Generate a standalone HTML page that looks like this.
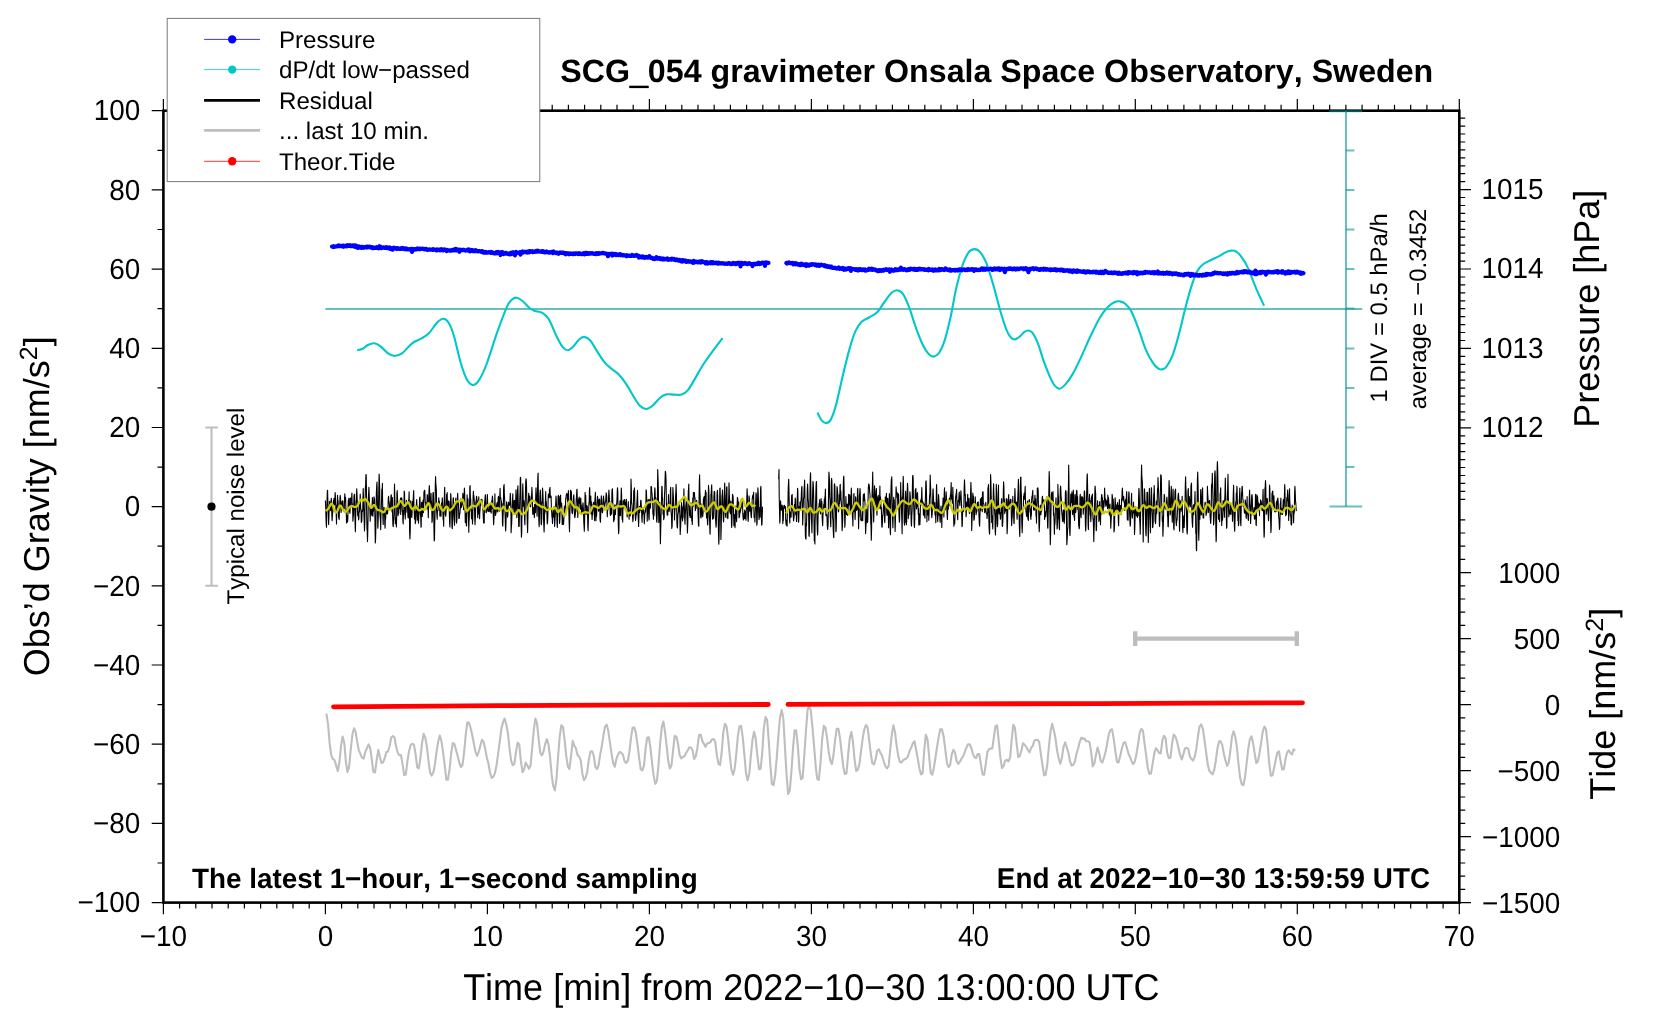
<!DOCTYPE html>
<html lang="en">
<head>
<meta charset="utf-8">
<title>SCG_054 gravimeter Onsala Space Observatory, Sweden</title>
<style>
html,body{margin:0;padding:0;background:#fff;}
body{width:1660px;height:1020px;overflow:hidden;font-family:"Liberation Sans",sans-serif;}
svg{display:block;will-change:transform;}
text{font-kerning:none;text-rendering:geometricPrecision;}
</style>
</head>
<body>
<svg width="1660" height="1020" viewBox="0 0 1660 1020" font-family='&quot;Liberation Sans&quot;, sans-serif' fill="#000">
<rect width="1660" height="1020" fill="#fff"/>
<g stroke="#000" fill="none">
<rect x="163.4" y="110.7" width="1295.9" height="791.9" stroke-width="2.6"/>
<path d="M163.4 902.6 v11.7 M163.4 110.7 v-11.7 M179.6 902.6 v5.9 M179.6 110.7 v-5.9 M195.8 902.6 v5.9 M195.8 110.7 v-5.9 M212 902.6 v5.9 M212 110.7 v-5.9 M228.2 902.6 v5.9 M228.2 110.7 v-5.9 M244.4 902.6 v5.9 M244.4 110.7 v-5.9 M260.6 902.6 v5.9 M260.6 110.7 v-5.9 M276.8 902.6 v5.9 M276.8 110.7 v-5.9 M293 902.6 v5.9 M293 110.7 v-5.9 M309.2 902.6 v5.9 M309.2 110.7 v-5.9 M325.4 902.6 v11.7 M325.4 110.7 v-11.7 M341.6 902.6 v5.9 M341.6 110.7 v-5.9 M357.8 902.6 v5.9 M357.8 110.7 v-5.9 M374 902.6 v5.9 M374 110.7 v-5.9 M390.2 902.6 v5.9 M390.2 110.7 v-5.9 M406.4 902.6 v5.9 M406.4 110.7 v-5.9 M422.6 902.6 v5.9 M422.6 110.7 v-5.9 M438.8 902.6 v5.9 M438.8 110.7 v-5.9 M455 902.6 v5.9 M455 110.7 v-5.9 M471.2 902.6 v5.9 M471.2 110.7 v-5.9 M487.4 902.6 v11.7 M487.4 110.7 v-11.7 M503.6 902.6 v5.9 M503.6 110.7 v-5.9 M519.8 902.6 v5.9 M519.8 110.7 v-5.9 M536 902.6 v5.9 M536 110.7 v-5.9 M552.2 902.6 v5.9 M552.2 110.7 v-5.9 M568.4 902.6 v5.9 M568.4 110.7 v-5.9 M584.6 902.6 v5.9 M584.6 110.7 v-5.9 M600.8 902.6 v5.9 M600.8 110.7 v-5.9 M617 902.6 v5.9 M617 110.7 v-5.9 M633.2 902.6 v5.9 M633.2 110.7 v-5.9 M649.4 902.6 v11.7 M649.4 110.7 v-11.7 M665.6 902.6 v5.9 M665.6 110.7 v-5.9 M681.8 902.6 v5.9 M681.8 110.7 v-5.9 M698 902.6 v5.9 M698 110.7 v-5.9 M714.2 902.6 v5.9 M714.2 110.7 v-5.9 M730.4 902.6 v5.9 M730.4 110.7 v-5.9 M746.6 902.6 v5.9 M746.6 110.7 v-5.9 M762.8 902.6 v5.9 M762.8 110.7 v-5.9 M779 902.6 v5.9 M779 110.7 v-5.9 M795.2 902.6 v5.9 M795.2 110.7 v-5.9 M811.4 902.6 v11.7 M811.4 110.7 v-11.7 M827.6 902.6 v5.9 M827.6 110.7 v-5.9 M843.8 902.6 v5.9 M843.8 110.7 v-5.9 M860 902.6 v5.9 M860 110.7 v-5.9 M876.2 902.6 v5.9 M876.2 110.7 v-5.9 M892.4 902.6 v5.9 M892.4 110.7 v-5.9 M908.6 902.6 v5.9 M908.6 110.7 v-5.9 M924.8 902.6 v5.9 M924.8 110.7 v-5.9 M941 902.6 v5.9 M941 110.7 v-5.9 M957.2 902.6 v5.9 M957.2 110.7 v-5.9 M973.4 902.6 v11.7 M973.4 110.7 v-11.7 M989.6 902.6 v5.9 M989.6 110.7 v-5.9 M1005.8 902.6 v5.9 M1005.8 110.7 v-5.9 M1022 902.6 v5.9 M1022 110.7 v-5.9 M1038.2 902.6 v5.9 M1038.2 110.7 v-5.9 M1054.4 902.6 v5.9 M1054.4 110.7 v-5.9 M1070.6 902.6 v5.9 M1070.6 110.7 v-5.9 M1086.8 902.6 v5.9 M1086.8 110.7 v-5.9 M1103 902.6 v5.9 M1103 110.7 v-5.9 M1119.2 902.6 v5.9 M1119.2 110.7 v-5.9 M1135.3 902.6 v11.7 M1135.3 110.7 v-11.7 M1151.5 902.6 v5.9 M1151.5 110.7 v-5.9 M1167.7 902.6 v5.9 M1167.7 110.7 v-5.9 M1183.9 902.6 v5.9 M1183.9 110.7 v-5.9 M1200.1 902.6 v5.9 M1200.1 110.7 v-5.9 M1216.3 902.6 v5.9 M1216.3 110.7 v-5.9 M1232.5 902.6 v5.9 M1232.5 110.7 v-5.9 M1248.7 902.6 v5.9 M1248.7 110.7 v-5.9 M1264.9 902.6 v5.9 M1264.9 110.7 v-5.9 M1281.1 902.6 v5.9 M1281.1 110.7 v-5.9 M1297.3 902.6 v11.7 M1297.3 110.7 v-11.7 M1313.5 902.6 v5.9 M1313.5 110.7 v-5.9 M1329.7 902.6 v5.9 M1329.7 110.7 v-5.9 M1345.9 902.6 v5.9 M1345.9 110.7 v-5.9 M1362.1 902.6 v5.9 M1362.1 110.7 v-5.9 M1378.3 902.6 v5.9 M1378.3 110.7 v-5.9 M1394.5 902.6 v5.9 M1394.5 110.7 v-5.9 M1410.7 902.6 v5.9 M1410.7 110.7 v-5.9 M1426.9 902.6 v5.9 M1426.9 110.7 v-5.9 M1443.1 902.6 v5.9 M1443.1 110.7 v-5.9 M1459.3 902.6 v11.7 M1459.3 110.7 v-11.7 M163.4 902.6 h-11.7 M163.4 863 h-5.9 M163.4 823.4 h-11.7 M163.4 783.8 h-5.9 M163.4 744.2 h-11.7 M163.4 704.6 h-5.9 M163.4 665 h-11.7 M163.4 625.4 h-5.9 M163.4 585.8 h-11.7 M163.4 546.2 h-5.9 M163.4 506.6 h-11.7 M163.4 467.1 h-5.9 M163.4 427.5 h-11.7 M163.4 387.9 h-5.9 M163.4 348.3 h-11.7 M163.4 308.7 h-5.9 M163.4 269.1 h-11.7 M163.4 229.5 h-5.9 M163.4 189.9 h-11.7 M163.4 150.3 h-5.9 M163.4 110.7 h-11.7 M1459.3 499.3 h5.9 M1459.3 491.4 h5.9 M1459.3 483.4 h5.9 M1459.3 475.5 h5.9 M1459.3 467.5 h5.9 M1459.3 459.6 h5.9 M1459.3 451.7 h5.9 M1459.3 443.7 h5.9 M1459.3 435.8 h5.9 M1459.3 427.8 h11.7 M1459.3 419.9 h5.9 M1459.3 411.9 h5.9 M1459.3 404 h5.9 M1459.3 396.1 h5.9 M1459.3 388.1 h5.9 M1459.3 380.2 h5.9 M1459.3 372.2 h5.9 M1459.3 364.3 h5.9 M1459.3 356.4 h5.9 M1459.3 348.4 h11.7 M1459.3 340.5 h5.9 M1459.3 332.5 h5.9 M1459.3 324.6 h5.9 M1459.3 316.7 h5.9 M1459.3 308.7 h5.9 M1459.3 300.8 h5.9 M1459.3 292.8 h5.9 M1459.3 284.9 h5.9 M1459.3 277 h5.9 M1459.3 269 h11.7 M1459.3 261.1 h5.9 M1459.3 253.1 h5.9 M1459.3 245.2 h5.9 M1459.3 237.2 h5.9 M1459.3 229.3 h5.9 M1459.3 221.4 h5.9 M1459.3 213.4 h5.9 M1459.3 205.5 h5.9 M1459.3 197.5 h5.9 M1459.3 189.6 h11.7 M1459.3 181.7 h5.9 M1459.3 173.7 h5.9 M1459.3 165.8 h5.9 M1459.3 157.8 h5.9 M1459.3 149.9 h5.9 M1459.3 142 h5.9 M1459.3 134 h5.9 M1459.3 126.1 h5.9 M1459.3 118.1 h5.9 M1459.3 902.6 h11.7 M1459.3 889.4 h5.9 M1459.3 876.2 h5.9 M1459.3 863 h5.9 M1459.3 849.8 h5.9 M1459.3 836.6 h11.7 M1459.3 823.4 h5.9 M1459.3 810.2 h5.9 M1459.3 797 h5.9 M1459.3 783.8 h5.9 M1459.3 770.6 h11.7 M1459.3 757.4 h5.9 M1459.3 744.2 h5.9 M1459.3 731 h5.9 M1459.3 717.8 h5.9 M1459.3 704.6 h11.7 M1459.3 691.4 h5.9 M1459.3 678.2 h5.9 M1459.3 665 h5.9 M1459.3 651.8 h5.9 M1459.3 638.6 h11.7 M1459.3 625.4 h5.9 M1459.3 612.2 h5.9 M1459.3 599 h5.9 M1459.3 585.8 h5.9 M1459.3 572.6 h11.7 M1459.3 559.4 h5.9 M1459.3 546.2 h5.9 M1459.3 533 h5.9 M1459.3 519.8 h5.9 " stroke-width="1.2"/>
</g>
<g stroke="rgb(0,150,150)" stroke-opacity="0.6" stroke-width="2" fill="none">
<path d="M325.4 309 H1362.2"/>
<path d="M1346 110.7 V506.6"/>
<path d="M1329.5 111.3 H1362.2"/>
<path d="M1329.5 506.6 H1362.2"/>
<path d="M1346 467 h8.4 M1346 427.5 h8.4 M1346 388 h8.4 M1346 348.5 h8.4 M1346 308.5 h8.4 M1346 269 h8.4 M1346 229.5 h8.4 M1346 190 h8.4 M1346 150.5 h8.4 "/>
</g>
<path d="M357.2 350.1 C358.1 349.9 361 349.7 362.8 348.8 C364.6 347.9 365.9 345.9 367.8 345 C369.7 344.1 372.1 343.1 374.2 343.3 C376.3 343.5 378.2 344.6 380.5 346.3 C382.8 348 385.8 351.8 388.1 353.4 C390.4 355 392.1 355.9 394.4 355.9 C396.7 355.9 399.1 355.5 402 353.4 C404.9 351.3 408.9 345.8 412.1 343.3 C415.3 340.9 418.2 340.3 421 338.7 C423.8 337.1 425.9 336.3 428.6 333.6 C431.3 330.9 434.9 324.8 437.4 322.3 C439.9 319.8 441.8 318.6 443.7 318.7 C445.6 318.8 447.1 320.2 448.8 323 C450.5 325.8 452 329.4 453.9 335.7 C455.8 342 458.1 353.8 460.2 361 C462.3 368.2 464.4 374.7 466.5 378.7 C468.6 382.7 470.7 384.8 472.8 385 C474.9 385.2 476.9 383.5 479.2 379.9 C481.5 376.3 483.9 371.3 486.8 363.5 C489.8 355.7 493.5 342.6 496.9 333.1 C500.3 323.6 504.5 312.2 507 306.6 C509.5 301 510.5 301 512.1 299.5 C513.7 298 514.9 297.5 516.6 297.7 C518.3 297.9 520 298.9 522.2 300.7 C524.4 302.5 527.7 306.6 529.8 308.3 C531.9 310 532.7 310.1 534.8 310.9 C536.9 311.7 540.1 311.5 542.4 312.9 C544.7 314.3 546.5 315.4 548.8 319.2 C551.1 323 554 331 556.3 335.7 C558.6 340.4 560.8 344.7 562.7 347.1 C564.6 349.5 566 350.3 567.7 350.3 C569.4 350.3 570.9 348.9 572.8 347.1 C574.7 345.3 577.2 341.2 579.1 339.5 C581 337.8 582.3 336.7 584.2 336.9 C586.1 337.1 588.4 338.4 590.5 340.7 C592.6 343 594.5 347.3 596.8 350.9 C599.1 354.5 602.1 359.3 604.4 362.2 C606.7 365.1 608.4 366.1 610.7 368.1 C613 370.1 615.8 371.5 618.3 374.1 C620.8 376.7 623.4 380 625.9 383.7 C628.4 387.4 631.2 392.7 633.5 396.4 C635.8 400.1 637.8 403.7 639.9 405.8 C642 407.9 644.1 409 646.2 409 C648.3 409 650.2 407.7 652.5 405.8 C654.8 403.9 657.8 399.6 660.1 397.7 C662.4 395.8 664.1 394.9 666.4 394.4 C668.7 393.9 671.5 394.6 674 394.6 C676.5 394.6 679.3 395.4 681.6 394.6 C683.9 393.9 685.8 392.6 687.9 390.1 C690 387.7 691.8 384.1 694.3 379.9 C696.8 375.7 700.1 369.4 703.1 364.8 C706.1 360.2 708.8 356.5 712 352.1 C715.2 347.7 720.8 340.5 722.6 338.2 M817.5 412.6 C818.2 413.9 820.1 418.6 821.6 420.4 C823.1 422.1 824.8 423.3 826.3 423.1 C827.8 422.9 829.3 422.4 830.9 419.4 C832.5 416.4 834.1 411.9 836 405 C837.9 398.1 840 387.5 842.2 378.2 C844.4 368.9 847.2 357.3 849.4 349.4 C851.6 341.5 853.5 335.5 855.6 330.9 C857.7 326.3 859.6 323.8 861.8 321.6 C864 319.4 866.4 319.1 869 317.5 C871.6 315.9 874.6 314.9 877.2 312.3 C879.8 309.7 882 305.2 884.4 302 C886.8 298.8 889.5 294.8 891.6 292.8 C893.7 290.9 895.3 290.1 897.2 290.3 C899.1 290.5 900.9 291 902.9 293.8 C904.9 296.6 906.9 301.4 909.1 307.2 C911.3 313 913.9 322.3 916.3 328.8 C918.7 335.3 921.4 342.1 923.5 346.3 C925.6 350.5 927.1 352.4 928.7 354.1 C930.4 355.8 931.7 356.8 933.4 356.6 C935.1 356.4 937.1 355.5 938.9 353.1 C940.7 350.7 942.2 348 944.1 342.2 C946 336.4 948.2 327.6 950.3 318.5 C952.3 309.4 954.3 296.5 956.4 287.6 C958.5 278.7 960.5 270.9 962.6 265 C964.7 259.1 966.8 254.8 968.8 252.2 C970.8 249.5 972.7 249.1 974.6 249.1 C976.5 249.1 978.2 249.9 980.1 252.2 C982 254.5 984.1 257.3 986.3 262.9 C988.5 268.5 991.1 277.4 993.5 285.6 C995.9 293.8 998.5 304.8 1000.7 312.3 C1002.9 319.9 1005.2 326.7 1006.9 330.9 C1008.6 335.1 1009.7 336.1 1011 337.5 C1012.3 338.9 1013.1 339.6 1014.5 339.5 C1015.9 339.4 1017.6 338.3 1019.2 337 C1020.9 335.7 1022.9 333 1024.4 331.9 C1026 330.8 1027.1 330.3 1028.5 330.5 C1029.9 330.7 1031 330.8 1032.6 332.9 C1034.1 335 1035.9 338.4 1037.8 343.2 C1039.7 348 1041.9 356 1043.9 361.7 C1046 367.4 1048.3 373.2 1050.1 377.2 C1051.9 381.1 1053 383.5 1054.6 385.4 C1056.2 387.3 1057.7 388.9 1059.5 388.7 C1061.3 388.5 1063.2 386.8 1065.4 384.4 C1067.6 382 1070 378.6 1072.6 374.1 C1075.2 369.6 1078 363.8 1080.9 357.6 C1083.8 351.4 1087 343.5 1090.1 337 C1093.2 330.5 1096.5 323.5 1099.4 318.5 C1102.3 313.5 1105 309.9 1107.6 307.2 C1110.2 304.4 1112.7 303 1114.8 302 C1116.9 301 1118.3 301.1 1120 301.4 C1121.7 301.7 1123.2 302 1125.1 303.7 C1127 305.4 1129.1 307.1 1131.3 311.3 C1133.5 315.5 1136.1 322.5 1138.5 328.8 C1140.9 335.1 1143.3 343.7 1145.7 349.4 C1148.1 355.1 1150.8 359.6 1152.9 362.8 C1155 366 1156.6 367.2 1158.1 368.3 C1159.5 369.4 1160.2 369.6 1161.6 369.4 C1163 369.2 1164.5 369.2 1166.3 366.9 C1168.1 364.6 1170.4 360.9 1172.5 355.6 C1174.6 350.3 1176.7 342.6 1178.7 335 C1180.8 327.4 1182.8 318.2 1184.8 310.3 C1186.8 302.4 1188.9 294.1 1191 287.6 C1193.1 281.1 1195.1 275.1 1197.2 271.2 C1199.3 267.3 1201 265.9 1203.4 264 C1205.8 262.1 1209 261.1 1211.6 259.8 C1214.2 258.5 1216.6 257.5 1218.8 256.3 C1221 255.1 1223 253.6 1225 252.6 C1227 251.6 1229.2 250.8 1231.1 250.6 C1233 250.4 1234.6 250.6 1236.3 251.6 C1238 252.6 1239.5 254.2 1241.4 256.8 C1243.3 259.4 1245.2 262 1247.6 267.1 C1250 272.2 1253 281.2 1255.8 287.6 C1258.5 294.1 1262.7 302.8 1264.1 305.8" fill="none" stroke="#00c8c8" stroke-width="2.1" stroke-linejoin="round"/>
<path d="M325.4 500.4 L325.7 507.4 L325.9 515.2 L326.2 523.7 L326.5 527.2 L326.7 516.2 L327 503.4 L327.3 491.1 L327.6 490.2 L327.8 499.3 L328.1 505.3 L328.4 514.7 L328.6 524.5 L328.9 517.3 L329.2 508.9 L329.4 506.2 L329.7 501.3 L330 504.1 L330.3 507.4 L330.5 509.9 L330.8 510.8 L331.1 499.8 L331.3 498.3 L331.6 502.7 L331.9 516.2 L332.1 520.6 L332.4 515.6 L332.7 512.1 L333 511.4 L333.2 504 L333.5 500.4 L333.8 502.6 L334 498.3 L334.3 505.1 L334.6 502.9 L334.8 504.2 L335.1 492.5 L335.4 495.9 L335.7 502.2 L335.9 509.5 L336.2 513.1 L336.5 524 L336.7 514.7 L337 504.7 L337.3 507.5 L337.5 495.2 L337.8 500.3 L338.1 500.6 L338.4 509.6 L338.6 517 L338.9 518.2 L339.2 519.6 L339.4 508.8 L339.7 505.4 L340 497.5 L340.2 495.4 L340.5 497.5 L340.8 507.2 L341.1 512.4 L341.3 509.8 L341.6 506.9 L341.9 501.6 L342.1 503.2 L342.4 508.5 L342.7 500.6 L342.9 501.4 L343.2 508.2 L343.5 508.3 L343.8 508 L344 507.8 L344.3 508.7 L344.6 497.7 L344.8 493.9 L345.1 500.2 L345.4 501.6 L345.6 497.4 L345.9 510.1 L346.2 508.9 L346.5 523 L346.7 519.3 L347 515.6 L347.3 517.2 L347.5 522.1 L347.8 519.6 L348.1 508.1 L348.3 500.5 L348.6 499.7 L348.9 498.2 L349.2 506.9 L349.4 511.4 L349.7 511.1 L350 513.4 L350.2 498.1 L350.5 498 L350.8 500 L351 507.1 L351.3 498.6 L351.6 497.9 L351.9 493.1 L352.1 502.2 L352.4 504.6 L352.7 511 L352.9 521.1 L353.2 517 L353.5 515.1 L353.7 506.3 L354 496.4 L354.3 494.3 L354.6 494.3 L354.8 509.9 L355.1 524.1 L355.4 531.7 L355.6 520.4 L355.9 508.1 L356.2 500.3 L356.4 501.9 L356.7 488.9 L357 494.1 L357.3 503.3 L357.5 510.5 L357.8 515.9 L358.1 511.8 L358.3 512.6 L358.6 519.9 L358.9 517.8 L359.1 504.4 L359.4 511.9 L359.7 507.2 L360 502.1 L360.2 494.1 L360.5 502.4 L360.8 510.3 L361 509.5 L361.3 522.4 L361.6 518.4 L361.8 521.3 L362.1 510.9 L362.4 511.6 L362.7 510.9 L362.9 502.3 L363.2 488.5 L363.5 499.2 L363.7 504.4 L364 516.6 L364.3 524.5 L364.5 531 L364.8 521.5 L365.1 499.7 L365.4 486.6 L365.6 486.4 L365.9 474.7 L366.2 474.6 L366.4 486.5 L366.7 516.3 L367 529.8 L367.2 528.5 L367.5 541.6 L367.8 530.6 L368.1 514.5 L368.3 499.9 L368.6 494 L368.9 487.3 L369.1 492.6 L369.4 500.4 L369.7 507.8 L369.9 510 L370.2 521.2 L370.5 511.2 L370.8 510.2 L371 507.7 L371.3 510.5 L371.6 514.1 L371.8 515.5 L372.1 505.3 L372.4 497.6 L372.6 503.1 L372.9 516.2 L373.2 508.1 L373.5 511.2 L373.7 503.8 L374 496.8 L374.3 499.8 L374.5 498.5 L374.8 511.3 L375.1 531.5 L375.3 543 L375.6 539 L375.9 525 L376.2 505.1 L376.4 492.4 L376.7 485.8 L377 482 L377.2 490.9 L377.5 508.1 L377.8 528.1 L378 525.6 L378.3 515.4 L378.6 502.1 L378.9 484.9 L379.1 474.1 L379.4 480 L379.7 490.7 L379.9 514.3 L380.2 517.4 L380.5 521.7 L380.7 529.6 L381 515 L381.3 507.6 L381.6 498 L381.8 489.1 L382.1 494.9 L382.4 483.4 L382.6 500.1 L382.9 518 L383.2 524.4 L383.4 512.7 L383.7 514.7 L384 507.3 L384.3 509.7 L384.5 509.3 L384.8 524.5 L385.1 528.1 L385.3 519.5 L385.6 519.2 L385.9 512.2 L386.1 511.2 L386.4 514 L386.7 511.3 L387 509.2 L387.2 512.5 L387.5 513.9 L387.8 510.8 L388 508.7 L388.3 497.8 L388.6 496.3 L388.8 500.9 L389.1 502 L389.4 504.3 L389.7 509.8 L389.9 507.3 L390.2 509.8 L390.5 508.3 L390.7 501.9 L391 495.5 L391.3 494.8 L391.5 499.6 L391.8 507.2 L392.1 512 L392.4 497.6 L392.6 514.4 L392.9 524.9 L393.2 526.7 L393.4 522.3 L393.7 518.8 L394 514.4 L394.2 504.2 L394.5 484 L394.8 497.3 L395.1 507.9 L395.3 523.7 L395.6 520.1 L395.9 518.1 L396.1 520.1 L396.4 526.9 L396.7 514 L396.9 493.4 L397.2 490.5 L397.5 497.7 L397.8 505.4 L398 515.7 L398.3 511.7 L398.6 514 L398.8 512.9 L399.1 505.7 L399.4 508.7 L399.6 506.1 L399.9 505 L400.2 502.8 L400.5 498 L400.7 514.5 L401 504.8 L401.3 503.4 L401.5 497.7 L401.8 498.2 L402.1 503.6 L402.3 511.2 L402.6 510.9 L402.9 521.2 L403.2 523.9 L403.4 510.3 L403.7 515.1 L404 502.1 L404.2 491.1 L404.5 492.4 L404.8 505.2 L405 513.4 L405.3 518.9 L405.6 506 L405.9 511.4 L406.1 512.2 L406.4 500.3 L406.7 503.5 L406.9 506.5 L407.2 503.9 L407.5 506.2 L407.7 511.7 L408 517.1 L408.3 518 L408.6 499.9 L408.8 501.2 L409.1 491.7 L409.4 509.5 L409.6 530.7 L409.9 539 L410.2 533 L410.4 517.4 L410.7 500.8 L411 508.1 L411.3 510.2 L411.5 516.9 L411.8 517.4 L412.1 512.4 L412.3 501.6 L412.6 503.4 L412.9 507.3 L413.1 500.7 L413.4 495.3 L413.7 490.6 L414 508.4 L414.2 509.2 L414.5 518.9 L414.8 512.5 L415 511.4 L415.3 523.7 L415.6 521.3 L415.8 521.2 L416.1 507 L416.4 504.1 L416.7 499.5 L416.9 505.5 L417.2 516.1 L417.5 519.9 L417.7 506.5 L418 509.9 L418.3 519.4 L418.5 523.3 L418.8 516.7 L419.1 512.4 L419.4 505.8 L419.6 498.5 L419.9 497 L420.2 506.9 L420.4 513.9 L420.7 516.6 L421 527.3 L421.2 526.9 L421.5 502.3 L421.8 515.6 L422.1 512.9 L422.3 516.5 L422.6 502.4 L422.9 502.5 L423.1 500.1 L423.4 512.7 L423.7 507.5 L423.9 492.4 L424.2 491.5 L424.5 490.2 L424.8 490.8 L425 496.9 L425.3 502.6 L425.6 502.7 L425.8 506 L426.1 504.3 L426.4 502.7 L426.6 505.5 L426.9 509 L427.2 494.6 L427.5 495.7 L427.7 507.7 L428 505.7 L428.3 517.7 L428.5 506.8 L428.8 495.8 L429.1 489.3 L429.3 485.6 L429.6 491 L429.9 506.1 L430.2 506.5 L430.4 499.4 L430.7 502.2 L431 493.2 L431.2 500.3 L431.5 502.2 L431.8 509 L432 522.5 L432.3 519.9 L432.6 511.3 L432.9 495.6 L433.1 492.5 L433.4 492.7 L433.7 502.9 L433.9 526.1 L434.2 540.9 L434.5 540 L434.7 524.6 L435 515.9 L435.3 484.9 L435.6 476.5 L435.8 483.1 L436.1 486.5 L436.4 491.1 L436.6 510.9 L436.9 515 L437.2 519.2 L437.4 511.6 L437.7 510.3 L438 510.5 L438.3 506.3 L438.5 503 L438.8 497.8 L439.1 506.8 L439.3 501 L439.6 506.2 L439.9 516.1 L440.1 511.1 L440.4 511.1 L440.7 505.6 L441 516.3 L441.2 505.9 L441.5 503.5 L441.8 502.6 L442 504 L442.3 497.7 L442.6 502.9 L442.8 508.5 L443.1 519.3 L443.4 519 L443.7 526.2 L443.9 507.5 L444.2 504.1 L444.5 491.1 L444.7 487.4 L445 505.1 L445.3 514.4 L445.5 515 L445.8 516.3 L446.1 511.4 L446.4 501.7 L446.6 494.3 L446.9 497.5 L447.2 492.6 L447.4 502.9 L447.7 508.5 L448 507 L448.2 502.3 L448.5 500.8 L448.8 503.3 L449.1 501.6 L449.3 511.3 L449.6 522.4 L449.9 527 L450.1 521.6 L450.4 508.2 L450.7 493.5 L450.9 495.2 L451.2 504.1 L451.5 507.3 L451.8 518.7 L452 527.3 L452.3 528.7 L452.6 519.5 L452.8 506.6 L453.1 498.9 L453.4 497.7 L453.6 502.4 L453.9 516.2 L454.2 520 L454.5 525.2 L454.7 514.6 L455 505 L455.3 502.6 L455.5 503.6 L455.8 498 L456.1 507.2 L456.3 521.6 L456.6 523.1 L456.9 520 L457.2 506.1 L457.4 498.4 L457.7 493.3 L458 504.1 L458.2 504.7 L458.5 501.7 L458.8 518.5 L459 518.4 L459.3 518.2 L459.6 513 L459.9 513.9 L460.1 510.3 L460.4 507.5 L460.7 499.4 L460.9 498.9 L461.2 507.7 L461.5 505.6 L461.7 506.3 L462 505.4 L462.3 503.3 L462.6 501.4 L462.8 493.2 L463.1 496.4 L463.4 504.8 L463.6 509.7 L463.9 506.2 L464.2 492.5 L464.4 488 L464.7 494.5 L465 508.1 L465.3 522.6 L465.5 514.3 L465.8 520.6 L466.1 513.5 L466.3 525.4 L466.6 526 L466.9 510.4 L467.1 494.9 L467.4 506.2 L467.7 500.9 L468 498.8 L468.2 509 L468.5 518.4 L468.8 532.2 L469 522.4 L469.3 517.6 L469.6 504.5 L469.8 487.4 L470.1 485.5 L470.4 499.3 L470.7 498.9 L470.9 510.9 L471.2 508.9 L471.5 518.8 L471.7 513.3 L472 509.7 L472.3 518.4 L472.5 524 L472.8 517.2 L473.1 496.5 L473.4 491.3 L473.6 497.2 L473.9 495.6 L474.2 499.6 L474.4 503.5 L474.7 517.3 L475 524.6 L475.2 520.6 L475.5 515.7 L475.8 502.4 L476.1 501.1 L476.3 499.3 L476.6 496.2 L476.9 499 L477.1 506.1 L477.4 501 L477.7 517.7 L477.9 511.7 L478.2 500.6 L478.5 501.7 L478.8 496.7 L479 514.1 L479.3 513.2 L479.6 518.7 L479.8 512.7 L480.1 509.5 L480.4 503.1 L480.6 505.4 L480.9 499.5 L481.2 499.4 L481.5 501.2 L481.7 500.6 L482 499.5 L482.3 504.3 L482.5 504.3 L482.8 507 L483.1 512.6 L483.3 517.1 L483.6 522.9 L483.9 519.7 L484.2 523 L484.4 510.9 L484.7 502.3 L485 498.6 L485.2 495.5 L485.5 494.7 L485.8 505.2 L486 512.3 L486.3 512.7 L486.6 511 L486.9 507.3 L487.1 501.7 L487.4 494.5 L487.7 504.9 L487.9 510.9 L488.2 511.6 L488.5 511.4 L488.7 510.1 L489 508.9 L489.3 506.5 L489.5 510.4 L489.8 511.6 L490.1 503.5 L490.4 507.5 L490.6 507.4 L490.9 512.1 L491.2 513.1 L491.4 506.3 L491.7 500.8 L492 508.2 L492.2 498.4 L492.5 496 L492.8 501.9 L493.1 512.2 L493.3 514.7 L493.6 524.8 L493.9 519.9 L494.1 516.2 L494.4 506.7 L494.7 505.6 L494.9 493.8 L495.2 507.9 L495.5 515.4 L495.8 513.8 L496 512.4 L496.3 511.2 L496.6 504.8 L496.8 504.3 L497.1 502.5 L497.4 503 L497.6 511.9 L497.9 507 L498.2 497.8 L498.5 496.2 L498.7 504.6 L499 503.9 L499.3 511.2 L499.5 500.8 L499.8 495.6 L500.1 488.2 L500.3 498.6 L500.6 497.2 L500.9 499.1 L501.2 509.7 L501.4 500.7 L501.7 504.9 L502 503.2 L502.2 507.3 L502.5 524.2 L502.8 526.1 L503 518.1 L503.3 511 L503.6 488.2 L503.9 485.2 L504.1 484.6 L504.4 495.6 L504.7 500.7 L504.9 509.2 L505.2 517 L505.5 528 L505.7 530.9 L506 523.1 L506.3 513.3 L506.6 501.7 L506.8 504.8 L507.1 504.7 L507.4 509.8 L507.6 517.2 L507.9 514.6 L508.2 507.5 L508.4 502.2 L508.7 502.2 L509 503.9 L509.3 505.5 L509.5 503.1 L509.8 505.1 L510.1 497.1 L510.3 493.3 L510.6 498.9 L510.9 507.8 L511.1 532.8 L511.4 526.6 L511.7 522.9 L512 513.4 L512.2 509.2 L512.5 500.6 L512.8 493.8 L513 507.2 L513.3 502.7 L513.6 501.4 L513.8 511.9 L514.1 512.1 L514.4 500.4 L514.7 500.9 L514.9 512.8 L515.2 513.5 L515.5 507.2 L515.7 502 L516 489.8 L516.3 495 L516.5 505.5 L516.8 517.6 L517.1 514 L517.4 501.3 L517.6 489.9 L517.9 485.8 L518.2 500.5 L518.4 505.9 L518.7 526.5 L519 519.8 L519.2 526.3 L519.5 511.8 L519.8 498.3 L520.1 490.7 L520.3 477.9 L520.6 477.4 L520.9 492.9 L521.1 519.6 L521.4 537.1 L521.7 533.6 L521.9 518.5 L522.2 510.9 L522.5 496.5 L522.8 483.7 L523 490.6 L523.3 506.3 L523.6 505.4 L523.8 500.6 L524.1 502.4 L524.4 512.5 L524.6 519.4 L524.9 524.7 L525.2 505.6 L525.5 491.9 L525.7 482.4 L526 478.7 L526.3 480.4 L526.5 485.3 L526.8 500.7 L527.1 515.1 L527.3 523.1 L527.6 532.5 L527.9 517.7 L528.2 502.9 L528.4 500 L528.7 493.3 L529 497.2 L529.2 496.3 L529.5 506.1 L529.8 496 L530 503.3 L530.3 505.7 L530.6 506.9 L530.9 502.6 L531.1 501.9 L531.4 497.9 L531.7 494.4 L531.9 487.3 L532.2 494.1 L532.5 505.6 L532.7 514.3 L533 514.3 L533.3 509 L533.6 511.4 L533.8 507.3 L534.1 513.9 L534.4 517.4 L534.6 504.3 L534.9 507.3 L535.2 508.1 L535.4 512.7 L535.7 497.3 L536 487.9 L536.3 494 L536.5 500.8 L536.8 510.8 L537.1 516.3 L537.3 506.9 L537.6 486.9 L537.9 475 L538.1 473 L538.4 496.9 L538.7 515.5 L539 524.5 L539.2 526.6 L539.5 515.3 L539.8 499.2 L540 493.5 L540.3 490 L540.6 497.6 L540.8 508.9 L541.1 523.4 L541.4 524.8 L541.7 519.5 L541.9 501.6 L542.2 503.4 L542.5 488 L542.7 489.9 L543 495.9 L543.3 505.9 L543.5 518.6 L543.8 525.3 L544.1 532 L544.4 522.4 L544.6 509.1 L544.9 513.3 L545.2 504.3 L545.4 501 L545.7 491.6 L546 510.9 L546.2 501.1 L546.5 506.2 L546.8 508.4 L547.1 520 L547.3 523.9 L547.6 521.6 L547.9 514.6 L548.1 500.3 L548.4 494 L548.7 497.5 L548.9 495.2 L549.2 497.7 L549.5 489.1 L549.8 491.1 L550 487.4 L550.3 497.6 L550.6 496.3 L550.8 495.9 L551.1 496.1 L551.4 508.2 L551.6 509.7 L551.9 516.6 L552.2 518 L552.5 523.4 L552.7 517.1 L553 512.3 L553.3 510.1 L553.5 517 L553.8 513.8 L554.1 506.5 L554.3 515.4 L554.6 526.4 L554.9 521.6 L555.2 515.5 L555.4 513 L555.7 503.7 L556 496.1 L556.2 498.5 L556.5 505.7 L556.8 515.4 L557 522.5 L557.3 527.5 L557.6 519 L557.9 506.7 L558.1 496.3 L558.4 495.3 L558.7 497.5 L558.9 504.5 L559.2 496.6 L559.5 523.5 L559.7 522.4 L560 516 L560.3 500.2 L560.6 495 L560.8 503 L561.1 506.3 L561.4 506 L561.6 503.1 L561.9 508.9 L562.2 524.4 L562.4 514.5 L562.7 520 L563 524.3 L563.3 523.3 L563.5 524.4 L563.8 520 L564.1 514.8 L564.3 506.5 L564.6 507 L564.9 505.7 L565.1 512.7 L565.4 508.4 L565.7 498.4 L566 498.9 L566.2 495.1 L566.5 494.4 L566.8 493.3 L567 494 L567.3 494.1 L567.6 504.2 L567.8 499.9 L568.1 504.7 L568.4 490.5 L568.7 503.3 L568.9 512 L569.2 524.2 L569.5 531.7 L569.7 520.9 L570 510.2 L570.3 502.7 L570.5 490.2 L570.8 490.6 L571.1 492.4 L571.4 491.7 L571.6 502.1 L571.9 512.6 L572.2 504.6 L572.4 513.7 L572.7 509.9 L573 501.3 L573.2 503.9 L573.5 496.5 L573.8 494.8 L574.1 502.8 L574.3 510.7 L574.6 516.1 L574.9 517.8 L575.1 515.7 L575.4 513.6 L575.7 507.1 L575.9 511.7 L576.2 500.1 L576.5 496.7 L576.8 489.7 L577 489.2 L577.3 499 L577.6 507.7 L577.8 517.5 L578.1 510.7 L578.4 501.9 L578.6 499.3 L578.9 498.4 L579.2 497 L579.5 503.6 L579.7 498.5 L580 508.1 L580.3 505.9 L580.5 509.2 L580.8 498.1 L581.1 507.4 L581.3 504.7 L581.6 512.7 L581.9 511.7 L582.2 509.8 L582.4 512.2 L582.7 506.1 L583 502.7 L583.2 505.3 L583.5 512.6 L583.8 522.3 L584 525.4 L584.3 531.2 L584.6 522.6 L584.9 504.8 L585.1 492.4 L585.4 499.1 L585.7 495.3 L585.9 504 L586.2 514.5 L586.5 511.7 L586.7 505.6 L587 512.8 L587.3 506.3 L587.6 515.7 L587.8 526.1 L588.1 530.8 L588.4 519 L588.6 513.6 L588.9 503.2 L589.2 502.2 L589.4 491.2 L589.7 487.6 L590 501.6 L590.3 505 L590.5 498.8 L590.8 496.1 L591.1 514 L591.3 501.2 L591.6 508.4 L591.9 515 L592.1 519.4 L592.4 513 L592.7 514.4 L593 504.2 L593.2 504.1 L593.5 502.3 L593.8 505 L594 510.4 L594.3 511.4 L594.6 520.6 L594.8 501.2 L595.1 497.4 L595.4 492.3 L595.7 505.4 L595.9 520.8 L596.2 511.9 L596.5 516.8 L596.7 513 L597 504.4 L597.3 499.5 L597.5 496.2 L597.8 499.7 L598.1 500.7 L598.4 505.2 L598.6 511.3 L598.9 507.1 L599.2 499 L599.4 499.6 L599.7 499.3 L600 518.9 L600.2 520.9 L600.5 522.3 L600.8 510.9 L601.1 502.8 L601.3 495.7 L601.6 499.3 L601.9 506.2 L602.1 511.6 L602.4 512.8 L602.7 511.3 L602.9 507.3 L603.2 500.3 L603.5 496.1 L603.8 499.4 L604 503.3 L604.3 502.7 L604.6 509.7 L604.8 505.2 L605.1 503.3 L605.4 501.6 L605.6 502 L605.9 497.7 L606.2 492.9 L606.5 494.7 L606.7 495.5 L607 508.3 L607.3 516.7 L607.5 511.3 L607.8 509.9 L608.1 506.7 L608.3 506.1 L608.6 496.4 L608.9 490 L609.2 494.9 L609.4 500.3 L609.7 505.9 L610 501.9 L610.2 514 L610.5 515.5 L610.8 514.3 L611 508.6 L611.3 513.5 L611.6 514 L611.9 492.7 L612.1 489.6 L612.4 488.8 L612.7 497.9 L612.9 506.9 L613.2 508.8 L613.5 516 L613.7 521.7 L614 520 L614.3 519.9 L614.6 511.8 L614.8 504.8 L615.1 509.8 L615.4 514.6 L615.6 509.7 L615.9 505.6 L616.2 506.7 L616.4 504 L616.7 503.8 L617 498.7 L617.3 490.4 L617.5 487.9 L617.8 491.7 L618.1 511.7 L618.3 524.3 L618.6 533.8 L618.9 530.1 L619.1 514 L619.4 505 L619.7 506.4 L620 500.9 L620.2 515.6 L620.5 515.6 L620.8 501 L621 499.9 L621.3 488 L621.6 493.9 L621.8 504.4 L622.1 519.2 L622.4 512.6 L622.7 522.1 L622.9 508.6 L623.2 500.8 L623.5 502.4 L623.7 507.7 L624 502.1 L624.3 499.3 L624.5 502.5 L624.8 505.1 L625.1 502.7 L625.4 510.6 L625.6 506 L625.9 500.4 L626.2 499.6 L626.4 499.4 L626.7 511.3 L627 512.6 L627.2 516.9 L627.5 512.6 L627.8 511.8 L628.1 507.2 L628.3 501.6 L628.6 510.1 L628.9 507.5 L629.1 519.3 L629.4 510.3 L629.7 511.2 L629.9 513.1 L630.2 516 L630.5 505 L630.8 496.9 L631 479.1 L631.3 487 L631.6 503 L631.8 503.1 L632.1 506.8 L632.4 512.7 L632.6 517.7 L632.9 521.7 L633.2 518.3 L633.5 506.5 L633.7 490.9 L634 491.1 L634.3 489 L634.5 487.8 L634.8 502 L635.1 512.5 L635.3 517.3 L635.6 520.5 L635.9 517.1 L636.2 513 L636.4 514.5 L636.7 509.2 L637 500.3 L637.2 498.3 L637.5 490.4 L637.8 503.2 L638 515 L638.3 519.2 L638.6 526.4 L638.9 518.2 L639.1 510.3 L639.4 506.6 L639.7 512.5 L639.9 506.4 L640.2 510.6 L640.5 505.2 L640.7 500.3 L641 500.4 L641.3 506.4 L641.6 510.6 L641.8 517.9 L642.1 522.2 L642.4 511.6 L642.6 514.9 L642.9 507.5 L643.2 507.6 L643.4 511.6 L643.7 513.5 L644 513.3 L644.3 523.7 L644.5 520.1 L644.8 513.6 L645.1 510 L645.3 512.1 L645.6 512.1 L645.9 503.5 L646.1 489.8 L646.4 491.1 L646.7 500.4 L647 506.1 L647.2 521.2 L647.5 511.8 L647.8 505 L648 500 L648.3 499.4 L648.6 512.3 L648.8 517.8 L649.1 520.1 L649.4 508.4 L649.6 499.6 L649.9 502.1 L650.2 501.5 L650.5 508.1 L650.7 502.1 L651 486.5 L651.3 486.6 L651.5 486.9 L651.8 493.3 L652.1 493.7 L652.3 501.2 L652.6 498.1 L652.9 513.9 L653.2 509.9 L653.4 519.2 L653.7 513 L654 515.8 L654.2 502.2 L654.5 495.7 L654.8 487.9 L655 489.1 L655.3 498.7 L655.6 497.3 L655.9 499 L656.1 509.8 L656.4 515.5 L656.7 521.3 L656.9 522.3 L657.2 514.3 L657.5 491.1 L657.7 469.6 L658 477.3 L658.3 486.8 L658.6 513.7 L658.8 522.5 L659.1 514.7 L659.4 504.6 L659.6 502.4 L659.9 514.6 L660.2 531.1 L660.4 543.7 L660.7 530.4 L661 518.7 L661.3 504.1 L661.5 500.8 L661.8 486.2 L662.1 486.8 L662.3 496.8 L662.6 498.3 L662.9 507.4 L663.1 514.5 L663.4 505.3 L663.7 519.7 L664 517.7 L664.2 517.8 L664.5 494.9 L664.8 489.8 L665 481.6 L665.3 471.2 L665.6 472.7 L665.8 474 L666.1 482.4 L666.4 504.9 L666.7 503.5 L666.9 510 L667.2 515 L667.5 514.8 L667.7 515.2 L668 507.7 L668.3 503.1 L668.5 494.5 L668.8 505.6 L669.1 511.5 L669.4 509.2 L669.6 507.7 L669.9 507.1 L670.2 500.6 L670.4 490.9 L670.7 487.2 L671 510.6 L671.2 513.2 L671.5 516.7 L671.8 528.5 L672.1 526.7 L672.3 519.7 L672.6 502.9 L672.9 487.5 L673.1 491.3 L673.4 496.5 L673.7 508.7 L673.9 507.8 L674.2 506.6 L674.5 520 L674.8 511.4 L675 509.7 L675.3 504.2 L675.6 495.6 L675.8 492.2 L676.1 484.3 L676.4 493.8 L676.6 501.8 L676.9 523 L677.2 527.4 L677.5 528 L677.7 520.2 L678 513.3 L678.3 513.4 L678.5 505.9 L678.8 506.6 L679.1 501.5 L679.3 511.6 L679.6 505.7 L679.9 517.4 L680.2 534.4 L680.4 530 L680.7 526 L681 516.2 L681.2 514.4 L681.5 502.5 L681.8 509.3 L682 515.6 L682.3 518.1 L682.6 520.9 L682.9 506.6 L683.1 517.8 L683.4 505.8 L683.7 497.9 L683.9 488.7 L684.2 503.6 L684.5 510.1 L684.7 518.4 L685 524.2 L685.3 514 L685.6 510.4 L685.8 505.9 L686.1 503 L686.4 499 L686.6 502.3 L686.9 512.7 L687.2 522.7 L687.4 533 L687.7 526.2 L688 513.1 L688.3 490.5 L688.5 490.3 L688.8 484.1 L689.1 502.7 L689.3 502.8 L689.6 515.4 L689.9 509.8 L690.1 517.6 L690.4 517.4 L690.7 513 L691 502.8 L691.2 516.7 L691.5 516.3 L691.8 521 L692 520.1 L692.3 524.5 L692.6 507.9 L692.8 497.8 L693.1 506.5 L693.4 492.6 L693.7 493.5 L693.9 492.4 L694.2 497 L694.5 492.9 L694.7 499.5 L695 497.6 L695.3 510.7 L695.5 508.4 L695.8 508.7 L696.1 508.3 L696.4 501.6 L696.6 500.4 L696.9 503.5 L697.2 503.5 L697.4 505.6 L697.7 504.4 L698 512.5 L698.2 518.3 L698.5 525.7 L698.8 526.3 L699.1 495.5 L699.3 482.8 L699.6 474.9 L699.9 492.5 L700.1 494.8 L700.4 506.7 L700.7 516.8 L700.9 518 L701.2 517 L701.5 504 L701.8 507 L702 513.2 L702.3 514.1 L702.6 516.8 L702.8 515.4 L703.1 512.6 L703.4 498.9 L703.6 499.9 L703.9 497.3 L704.2 496.6 L704.5 506.3 L704.7 511.4 L705 497.9 L705.3 493.4 L705.5 490.2 L705.8 494.1 L706.1 492.6 L706.3 512.8 L706.6 517.9 L706.9 514.5 L707.2 509.5 L707.4 521.5 L707.7 525 L708 516.3 L708.2 498.2 L708.5 485.4 L708.8 489.7 L709 495.6 L709.3 514.5 L709.6 520.3 L709.9 532.3 L710.1 534.2 L710.4 519 L710.7 513.5 L710.9 494.5 L711.2 493.6 L711.5 487 L711.7 484.8 L712 497.3 L712.3 509.8 L712.6 519.3 L712.8 517.2 L713.1 518.6 L713.4 518.3 L713.6 513.4 L713.9 497.1 L714.2 491.3 L714.4 491.6 L714.7 492.2 L715 504 L715.3 517.9 L715.5 518.2 L715.8 523.5 L716.1 527.3 L716.3 525.3 L716.6 506.7 L716.9 504.6 L717.1 493.2 L717.4 490.4 L717.7 496.5 L718 509.8 L718.2 517.4 L718.5 533.5 L718.8 544.1 L719 540.3 L719.3 524 L719.6 506.1 L719.8 488.6 L720.1 488 L720.4 500.4 L720.7 516.3 L720.9 539.4 L721.2 528.2 L721.5 514.5 L721.7 506.5 L722 495.9 L722.3 493.7 L722.5 490.1 L722.8 499.6 L723.1 512.7 L723.4 520.3 L723.6 522 L723.9 514.9 L724.2 499 L724.4 493 L724.7 483 L725 494.3 L725.2 504.7 L725.5 514.6 L725.8 517.5 L726.1 504.1 L726.3 497.9 L726.6 487.4 L726.9 486.8 L727.1 501.1 L727.4 517.9 L727.7 517.8 L727.9 518.6 L728.2 510.2 L728.5 503.6 L728.8 494.4 L729 482.9 L729.3 493.5 L729.6 499.7 L729.8 511.9 L730.1 510.3 L730.4 513.6 L730.6 511.3 L730.9 501 L731.2 506.4 L731.5 524.7 L731.7 527.4 L732 520.5 L732.3 504.1 L732.5 494.2 L732.8 495.2 L733.1 496.7 L733.3 502.8 L733.6 515.5 L733.9 525.8 L734.2 514.4 L734.4 516.4 L734.7 520.8 L735 527.6 L735.2 523.6 L735.5 508.9 L735.8 506.1 L736 508.7 L736.3 515.9 L736.6 521.6 L736.9 514.4 L737.1 505.7 L737.4 497.3 L737.7 498.9 L737.9 500.5 L738.2 508 L738.5 501.8 L738.7 502.4 L739 517.7 L739.3 517 L739.6 516.4 L739.8 507.5 L740.1 513.1 L740.4 510.1 L740.6 511 L740.9 507.3 L741.2 508.2 L741.4 506.5 L741.7 506 L742 500.4 L742.3 502.6 L742.5 499.5 L742.8 514.5 L743.1 518 L743.3 519.3 L743.6 520 L743.9 518.5 L744.1 513.1 L744.4 513.8 L744.7 510.1 L745 518.5 L745.2 516.7 L745.5 511.7 L745.8 514.5 L746 520.2 L746.3 509.7 L746.6 508.1 L746.8 497.7 L747.1 488.8 L747.4 495.6 L747.7 510.4 L747.9 518.2 L748.2 521.4 L748.5 514.3 L748.7 506 L749 495.9 L749.3 498.1 L749.5 503.1 L749.8 511.2 L750.1 506.8 L750.4 504.1 L750.6 506.8 L750.9 514.3 L751.2 516.5 L751.4 517.6 L751.7 510.5 L752 507.6 L752.2 498.8 L752.5 497.2 L752.8 495.1 L753.1 497.8 L753.3 498.7 L753.6 492.3 L753.9 509.9 L754.1 517.4 L754.4 516 L754.7 516.5 L754.9 522.1 L755.2 514 L755.5 506.6 L755.8 499 L756 492.8 L756.3 494.6 L756.6 512.5 L756.8 525.3 L757.1 523.1 L757.4 511.4 L757.6 497.6 L757.9 487.8 L758.2 492.4 L758.5 504 L758.7 512.4 L759 519.6 L759.3 515.7 L759.5 515.6 L759.8 507.4 L760.1 517.1 L760.3 502.7 L760.6 488.5 L760.9 486.4 L761.2 502.9 L761.4 517.8 L761.7 525.2 L762 524.3 L762.2 517.2 L762.5 506.8 M778.7 479.3 L779 469.6 L779.2 496.3 L779.5 509.6 L779.8 523.1 L780.1 519.6 L780.3 505 L780.6 500.7 L780.9 506.7 L781.1 504.9 L781.4 510.1 L781.7 507.2 L781.9 506 L782.2 505.3 L782.5 507.4 L782.8 523.6 L783 516.2 L783.3 520.7 L783.6 508.5 L783.8 506.4 L784.1 505.5 L784.4 505.3 L784.6 507.8 L784.9 508.2 L785.2 508.6 L785.5 506.5 L785.7 519.8 L786 523.4 L786.3 525.2 L786.5 524.7 L786.8 519.8 L787.1 526.1 L787.3 515.8 L787.6 508.6 L787.9 507.8 L788.2 488.6 L788.4 485.3 L788.7 479.3 L789 491.5 L789.2 501.3 L789.5 519.1 L789.8 522.9 L790 511.8 L790.3 513.6 L790.6 514.9 L790.9 516.7 L791.1 517.3 L791.4 503.1 L791.7 495.1 L791.9 497.9 L792.2 494.6 L792.5 510.3 L792.7 509.2 L793 512.8 L793.3 516.5 L793.6 520.9 L793.8 518.7 L794.1 517 L794.4 504.5 L794.6 505.3 L794.9 508.7 L795.2 498 L795.4 500.9 L795.7 514.8 L796 508.6 L796.3 513 L796.5 521.4 L796.8 512.5 L797.1 499.8 L797.3 498 L797.6 488.3 L797.9 492.4 L798.1 506.6 L798.4 521.7 L798.7 522.1 L799 511.9 L799.2 506.5 L799.5 510.1 L799.8 509.9 L800 502.1 L800.3 508.8 L800.6 509.2 L800.8 501.3 L801.1 500.6 L801.4 493.2 L801.7 487.3 L801.9 486.3 L802.2 503.1 L802.5 512.4 L802.7 524.9 L803 513.9 L803.3 504.7 L803.5 498 L803.8 497.9 L804.1 488.2 L804.4 485.5 L804.6 480.1 L804.9 493.3 L805.2 521.9 L805.4 536.3 L805.7 539 L806 539 L806.2 523.4 L806.5 525.9 L806.8 512.4 L807.1 499.8 L807.3 489.3 L807.6 484 L807.9 491.7 L808.1 499 L808.4 502.4 L808.7 518.4 L808.9 535.4 L809.2 536.4 L809.5 527 L809.8 512.8 L810 491.6 L810.3 476 L810.6 472.9 L810.8 486.2 L811.1 502.4 L811.4 518.2 L811.6 522.4 L811.9 532.8 L812.2 519.8 L812.4 506.1 L812.7 489.9 L813 481.4 L813.3 484.3 L813.5 489.6 L813.8 501.8 L814.1 528.8 L814.3 541 L814.6 537.5 L814.9 544 L815.1 522.3 L815.4 512.9 L815.7 499.8 L816 487.5 L816.2 482.6 L816.5 481.5 L816.8 508.1 L817 520.8 L817.3 530.1 L817.6 534.9 L817.8 531.8 L818.1 515.5 L818.4 507.8 L818.7 507 L818.9 507.9 L819.2 503.3 L819.5 503.8 L819.7 499.5 L820 510.4 L820.3 512.4 L820.5 514 L820.8 510.5 L821.1 498.6 L821.4 504.6 L821.6 506.5 L821.9 501.5 L822.2 518.3 L822.4 521.5 L822.7 525.6 L823 514.1 L823.2 512.6 L823.5 508.3 L823.8 504.1 L824.1 506.5 L824.3 499.1 L824.6 507.8 L824.9 496.7 L825.1 497.4 L825.4 489 L825.7 505 L825.9 515.6 L826.2 514.5 L826.5 515.7 L826.8 514.4 L827 516.9 L827.3 525.9 L827.6 529.4 L827.8 527.7 L828.1 524.4 L828.4 504 L828.6 489.7 L828.9 472 L829.2 475.7 L829.5 480.1 L829.7 497.7 L830 499.4 L830.3 516.8 L830.5 521.3 L830.8 526.8 L831.1 507.2 L831.3 484 L831.6 478.3 L831.9 481.4 L832.2 502.1 L832.4 508.9 L832.7 518.5 L833 521.1 L833.2 528.9 L833.5 536.1 L833.8 537.7 L834 513.7 L834.3 485.2 L834.6 483.7 L834.9 486.8 L835.1 505.6 L835.4 508.8 L835.7 520.5 L835.9 531.8 L836.2 530.2 L836.5 513.7 L836.7 502.2 L837 486.6 L837.3 488.1 L837.6 492.3 L837.8 494 L838.1 506.3 L838.4 511.4 L838.6 511.9 L838.9 507.7 L839.2 503.4 L839.4 494.8 L839.7 503.1 L840 485.6 L840.3 484.4 L840.5 500 L840.8 490.9 L841.1 500.4 L841.3 501.5 L841.6 511 L841.9 519.7 L842.1 530.6 L842.4 526.4 L842.7 519.4 L843 499.4 L843.2 490.8 L843.5 478.1 L843.8 476 L844 483.2 L844.3 503.2 L844.6 514.9 L844.8 527.3 L845.1 523.6 L845.4 509.1 L845.7 507.7 L845.9 496.5 L846.2 506.3 L846.5 514.8 L846.7 513 L847 505.5 L847.3 504 L847.5 511.7 L847.8 515.4 L848.1 508.8 L848.4 505.8 L848.6 494.3 L848.9 505.1 L849.2 498.5 L849.4 499.4 L849.7 494.9 L850 496.9 L850.2 512 L850.5 508.6 L850.8 509.7 L851.1 496.7 L851.3 488 L851.6 494.6 L851.9 511.3 L852.1 504.9 L852.4 516.1 L852.7 519.6 L852.9 526 L853.2 506.4 L853.5 511.7 L853.8 494.3 L854 493.6 L854.3 511.8 L854.6 510 L854.8 509.8 L855.1 519.6 L855.4 511.7 L855.6 496.7 L855.9 498.4 L856.2 509.1 L856.5 502.9 L856.7 510.4 L857 509.2 L857.3 507 L857.5 490 L857.8 488.4 L858.1 505.6 L858.3 512.2 L858.6 528.7 L858.9 513.2 L859.2 516.7 L859.4 495.7 L859.7 493.3 L860 488.5 L860.2 490.8 L860.5 503 L860.8 520.1 L861 518.8 L861.3 520.1 L861.6 519.5 L861.9 521 L862.1 515 L862.4 511.5 L862.7 520.4 L862.9 514.1 L863.2 496.8 L863.5 494.2 L863.7 501 L864 498.2 L864.3 493.6 L864.6 498.5 L864.8 499.4 L865.1 506.4 L865.4 523.6 L865.6 533.6 L865.9 527.3 L866.2 523 L866.4 520.4 L866.7 509.1 L867 520.1 L867.3 521.6 L867.5 522.5 L867.8 519.8 L868.1 498.2 L868.3 488.9 L868.6 484.1 L868.9 484.1 L869.1 485 L869.4 486.8 L869.7 492.8 L870 494.4 L870.2 500 L870.5 511.2 L870.8 524.5 L871 524.8 L871.3 540.3 L871.6 528.3 L871.8 513.5 L872.1 492.9 L872.4 486.9 L872.7 472.1 L872.9 485.3 L873.2 498.3 L873.5 514.9 L873.7 522 L874 508.3 L874.3 496 L874.5 485.8 L874.8 490.2 L875.1 496.5 L875.4 505.1 L875.6 500.3 L875.9 501.3 L876.2 491 L876.4 488.6 L876.7 510.5 L877 515.1 L877.2 503.5 L877.5 498.9 L877.8 496.5 L878.1 506.8 L878.3 495.3 L878.6 508.9 L878.9 505.8 L879.1 508 L879.4 500.9 L879.7 493.9 L879.9 486 L880.2 508.6 L880.5 496.9 L880.8 502.7 L881 508.7 L881.3 507.1 L881.6 518.1 L881.8 526.7 L882.1 527.1 L882.4 523.1 L882.6 515.3 L882.9 515.5 L883.2 511.4 L883.5 505.3 L883.7 500.7 L884 502.7 L884.3 503.5 L884.5 520.5 L884.8 522.8 L885.1 514.8 L885.3 496.8 L885.6 498.9 L885.9 501.4 L886.2 504.9 L886.4 493.2 L886.7 511.9 L887 515.4 L887.2 514.9 L887.5 498.4 L887.8 498.4 L888 507.3 L888.3 515.5 L888.6 527.8 L888.9 519.6 L889.1 503.5 L889.4 493.5 L889.7 499.6 L889.9 507.6 L890.2 530.9 L890.5 534.6 L890.7 511.8 L891 489.3 L891.3 479.6 L891.6 479.2 L891.8 476.9 L892.1 498.2 L892.4 512 L892.6 519.5 L892.9 527.8 L893.2 514.2 L893.4 505.6 L893.7 497.3 L894 503.7 L894.3 499.9 L894.5 513.7 L894.8 514.5 L895.1 531.5 L895.3 524.9 L895.6 513.2 L895.9 495.9 L896.1 486.9 L896.4 491.5 L896.7 493.1 L897 492.2 L897.2 497.6 L897.5 493.5 L897.8 506.4 L898 497.5 L898.3 493.6 L898.6 495 L898.8 508.4 L899.1 517.4 L899.4 522.3 L899.7 518.9 L899.9 507.9 L900.2 505.9 L900.5 498 L900.7 482.6 L901 497.9 L901.3 496.9 L901.5 511 L901.8 520.1 L902.1 533.8 L902.4 511.9 L902.6 498.5 L902.9 490.5 L903.2 476.2 L903.4 481.9 L903.7 496.2 L904 506.2 L904.2 521.6 L904.5 525.1 L904.8 521.2 L905.1 522.7 L905.3 505.7 L905.6 491.2 L905.9 499 L906.1 510.9 L906.4 524.7 L906.7 520.7 L906.9 504 L907.2 491.2 L907.5 483.3 L907.8 487.7 L908 506.4 L908.3 518.6 L908.6 510.2 L908.8 515.1 L909.1 514.5 L909.4 505.9 L909.6 504 L909.9 491.9 L910.2 495.2 L910.5 500.5 L910.7 505.6 L911 515.5 L911.3 525.1 L911.5 526.1 L911.8 515.6 L912.1 510.9 L912.3 493 L912.6 477.2 L912.9 475.2 L913.2 478.9 L913.4 500.6 L913.7 505.8 L914 514.9 L914.2 525.5 L914.5 527.5 L914.8 518.7 L915 504.1 L915.3 489.7 L915.6 490.1 L915.9 488.4 L916.1 498 L916.4 509 L916.7 505.6 L916.9 507.1 L917.2 494.2 L917.5 492.6 L917.7 497.4 L918 506.4 L918.3 514.6 L918.6 508.5 L918.8 525 L919.1 513.5 L919.4 517.4 L919.6 521.1 L919.9 524.6 L920.2 516.7 L920.4 506.1 L920.7 500 L921 502.4 L921.3 498.4 L921.5 499.5 L921.8 487.5 L922.1 498.9 L922.3 505.1 L922.6 500.8 L922.9 505.5 L923.1 502.4 L923.4 515.2 L923.7 504.2 L924 508.5 L924.2 504 L924.5 514.6 L924.8 517.2 L925 518.2 L925.3 501.3 L925.6 492.4 L925.8 482.1 L926.1 480.7 L926.4 489.3 L926.7 506.4 L926.9 521.8 L927.2 505.7 L927.5 513.9 L927.7 510 L928 515 L928.3 515.1 L928.5 505.3 L928.8 520.2 L929.1 510.4 L929.4 500.6 L929.6 495.6 L929.9 493.9 L930.2 475.1 L930.4 482.3 L930.7 489.7 L931 506.1 L931.2 507.4 L931.5 512.6 L931.8 517.8 L932.1 514.4 L932.3 512 L932.6 502 L932.9 490.4 L933.1 488.8 L933.4 495.9 L933.7 502.5 L933.9 507.6 L934.2 508.6 L934.5 504.7 L934.8 502.5 L935 515 L935.3 507.5 L935.6 515.9 L935.8 522.7 L936.1 510.4 L936.4 489.8 L936.6 484.6 L936.9 497 L937.2 503.6 L937.5 516.5 L937.7 521.6 L938 516.7 L938.3 514.7 L938.5 494.6 L938.8 498.5 L939.1 504.6 L939.3 515 L939.6 510.1 L939.9 519.7 L940.2 522.5 L940.4 517.2 L940.7 510.7 L941 506 L941.2 507.9 L941.5 513.3 L941.8 527.4 L942 516.3 L942.3 511.9 L942.6 507.4 L942.9 502.6 L943.1 498.1 L943.4 502.5 L943.7 508.7 L943.9 516.9 L944.2 494.1 L944.5 487.8 L944.7 498 L945 506.7 L945.3 509.9 L945.6 502.8 L945.8 504.1 L946.1 491.9 L946.4 496.7 L946.6 505.9 L946.9 510.2 L947.2 516 L947.4 519.5 L947.7 510 L948 504.1 L948.3 509.2 L948.5 503.5 L948.8 505.8 L949.1 498.9 L949.3 505.7 L949.6 498 L949.9 503.6 L950.1 502.2 L950.4 494.7 L950.7 495 L951 488.1 L951.2 482.5 L951.5 498.9 L951.8 496.4 L952 496.2 L952.3 503.1 L952.6 501 L952.8 487.4 L953.1 495.8 L953.4 506.7 L953.7 520.4 L953.9 526.2 L954.2 518.8 L954.5 523 L954.7 524 L955 516.4 L955.3 504.2 L955.5 499.5 L955.8 496.4 L956.1 493.8 L956.4 492.5 L956.6 489.4 L956.9 502 L957.2 514 L957.4 512.9 L957.7 519.8 L958 508.9 L958.2 500.4 L958.5 502 L958.8 499 L959.1 493.7 L959.3 492.1 L959.6 503.7 L959.9 505.7 L960.1 499.5 L960.4 499.5 L960.7 494.7 L960.9 490.9 L961.2 497 L961.5 503.8 L961.8 518.1 L962 526.7 L962.3 525.4 L962.6 511.1 L962.8 512.3 L963.1 508.6 L963.4 508.6 L963.6 511.3 L963.9 503.6 L964.2 487 L964.5 479.8 L964.7 484.3 L965 495.5 L965.3 494.4 L965.5 509.4 L965.8 508.2 L966.1 516.8 L966.3 514.1 L966.6 502 L966.9 507 L967.2 507.5 L967.4 504.2 L967.7 494.3 L968 503.9 L968.2 510 L968.5 504.4 L968.8 505.5 L969 498.3 L969.3 513 L969.6 513.6 L969.9 511.8 L970.1 509.1 L970.4 501 L970.7 490.3 L970.9 482.4 L971.2 490.5 L971.5 507.1 L971.7 530.4 L972 521.3 L972.3 513 L972.6 500.1 L972.8 493 L973.1 496.7 L973.4 496 L973.6 510.2 L973.9 520.3 L974.2 519.3 L974.4 517.8 L974.7 503.5 L975 501.7 L975.2 496.9 L975.5 501.9 L975.8 509.7 L976.1 514.7 L976.3 512.9 L976.6 512.1 L976.9 510.4 L977.1 508.3 L977.4 502.5 L977.7 505.5 L977.9 506.4 L978.2 501.9 L978.5 507.1 L978.8 511.3 L979 516.2 L979.3 523.2 L979.6 526.2 L979.8 520.7 L980.1 510.1 L980.4 498.9 L980.6 510.6 L980.9 501.4 L981.2 502.4 L981.5 497.5 L981.7 503.3 L982 509.4 L982.3 511.8 L982.5 492 L982.8 495.3 L983.1 491.8 L983.3 503.4 L983.6 504.1 L983.9 503.9 L984.2 509.3 L984.4 506 L984.7 512.7 L985 510.5 L985.2 510.7 L985.5 505.9 L985.8 502.2 L986 511.2 L986.3 513.3 L986.6 513.9 L986.9 514.2 L987.1 518.4 L987.4 514.1 L987.7 511.9 L987.9 488.5 L988.2 486.9 L988.5 484.5 L988.7 511.1 L989 525.8 L989.3 531.8 L989.6 534.1 L989.8 520.8 L990.1 504.5 L990.4 487.9 L990.6 474.5 L990.9 481.7 L991.2 496.9 L991.4 500.9 L991.7 522.5 L992 515.5 L992.3 517.2 L992.5 525.3 L992.8 528.9 L993.1 508 L993.3 491.8 L993.6 483.9 L993.9 495.2 L994.1 499.1 L994.4 504.7 L994.7 513.5 L995 516.6 L995.2 531.5 L995.5 535 L995.8 520.9 L996 503.9 L996.3 484.3 L996.6 492.3 L996.8 499.9 L997.1 522.1 L997.4 526.7 L997.7 524 L997.9 509.7 L998.2 493.7 L998.5 485.1 L998.7 513 L999 511.1 L999.3 514 L999.5 506.9 L999.8 512.9 L1000.1 512.9 L1000.4 519.3 L1000.6 518.1 L1000.9 512.6 L1001.2 512.1 L1001.4 501.3 L1001.7 498.5 L1002 506.8 L1002.2 525.8 L1002.5 526.4 L1002.8 522 L1003.1 512.4 L1003.3 492.1 L1003.6 481.8 L1003.9 486.6 L1004.1 498.9 L1004.4 499.1 L1004.7 513.6 L1004.9 511.9 L1005.2 508.1 L1005.5 511.1 L1005.8 504.4 L1006 510.3 L1006.3 498.6 L1006.6 501.4 L1006.8 515.3 L1007.1 533.7 L1007.4 527.2 L1007.6 521.3 L1007.9 499.1 L1008.2 503.7 L1008.5 498.6 L1008.7 494.6 L1009 507.7 L1009.3 509 L1009.5 503.2 L1009.8 505.3 L1010.1 501.6 L1010.3 499.6 L1010.6 502.1 L1010.9 499.4 L1011.2 508.5 L1011.4 518.9 L1011.7 525.6 L1012 518 L1012.2 518 L1012.5 508.3 L1012.8 496.2 L1013 503.7 L1013.3 505.5 L1013.6 514.1 L1013.9 522.4 L1014.1 523.7 L1014.4 507.9 L1014.7 497.1 L1014.9 488.5 L1015.2 495.9 L1015.5 507.2 L1015.7 502.7 L1016 503.4 L1016.3 505.2 L1016.6 502 L1016.8 511.7 L1017.1 519.2 L1017.4 509.9 L1017.6 503 L1017.9 495.6 L1018.2 486.4 L1018.4 479.4 L1018.7 487.6 L1019 507.9 L1019.3 524.4 L1019.5 531.1 L1019.8 536.4 L1020.1 518.3 L1020.3 495.4 L1020.6 477.3 L1020.9 477.1 L1021.1 490 L1021.4 495.9 L1021.7 519.3 L1022 528.3 L1022.2 532.8 L1022.5 523.6 L1022.8 510.3 L1023 509.5 L1023.3 508.8 L1023.6 496.1 L1023.8 498.9 L1024.1 493.4 L1024.4 499.3 L1024.7 495.2 L1024.9 492.1 L1025.2 486.4 L1025.5 502.4 L1025.7 505.8 L1026 512 L1026.3 512.8 L1026.5 516 L1026.8 516.4 L1027.1 511.9 L1027.4 501.1 L1027.6 515 L1027.9 519 L1028.2 519.5 L1028.4 520.5 L1028.7 505.8 L1029 500.1 L1029.2 500.2 L1029.5 499.7 L1029.8 504.5 L1030.1 512 L1030.3 508.3 L1030.6 516.4 L1030.9 519.4 L1031.1 515.7 L1031.4 515 L1031.7 499.1 L1031.9 496.5 L1032.2 496.5 L1032.5 493.6 L1032.8 490.3 L1033 501.2 L1033.3 501.9 L1033.6 509.9 L1033.8 503.8 L1034.1 501.2 L1034.4 510.1 L1034.6 505.7 L1034.9 495.3 L1035.2 508.6 L1035.5 505.8 L1035.7 498.8 L1036 515.6 L1036.3 517 L1036.5 523.1 L1036.8 505.7 L1037.1 502.1 L1037.3 488.3 L1037.6 491.3 L1037.9 487.9 L1038.2 491 L1038.4 505.7 L1038.7 510.8 L1039 526.4 L1039.2 531.6 L1039.5 526.1 L1039.8 512.7 L1040 513.6 L1040.3 505.1 L1040.6 507.1 L1040.9 514.7 L1041.1 506.3 L1041.4 512.1 L1041.7 510.2 L1041.9 504.5 L1042.2 497.3 L1042.5 496.2 L1042.7 502.1 L1043 505.8 L1043.3 501.1 L1043.6 501 L1043.8 499.7 L1044.1 503.9 L1044.4 500.6 L1044.6 519.4 L1044.9 515.5 L1045.2 511.8 L1045.4 513.7 L1045.7 516.8 L1046 513 L1046.3 508.9 L1046.5 504.1 L1046.8 497.7 L1047.1 496.7 L1047.3 512.9 L1047.6 526.9 L1047.9 528.3 L1048.1 520 L1048.4 505 L1048.7 499.3 L1049 480.7 L1049.2 471.5 L1049.5 479 L1049.8 502.2 L1050 526.1 L1050.3 544.7 L1050.6 534.7 L1050.8 522.8 L1051.1 502.7 L1051.4 495.2 L1051.7 492.4 L1051.9 495.2 L1052.2 494.6 L1052.5 501.2 L1052.7 497.1 L1053 491.5 L1053.3 504.8 L1053.5 515.4 L1053.8 513 L1054.1 521.8 L1054.4 534.3 L1054.6 525.2 L1054.9 524.3 L1055.2 518.3 L1055.4 506.9 L1055.7 504.6 L1056 497.7 L1056.2 506.1 L1056.5 505.1 L1056.8 516.9 L1057.1 529 L1057.3 526.9 L1057.6 520.1 L1057.9 484.4 L1058.1 492.3 L1058.4 497.4 L1058.7 518.9 L1058.9 515.1 L1059.2 527.1 L1059.5 529.8 L1059.8 507.6 L1060 503.5 L1060.3 489.7 L1060.6 486 L1060.8 489.1 L1061.1 497 L1061.4 499.4 L1061.6 510.4 L1061.9 513.6 L1062.2 516.4 L1062.5 521.5 L1062.7 518 L1063 514.5 L1063.3 510.3 L1063.5 516 L1063.8 521.7 L1064.1 509.2 L1064.3 523.3 L1064.6 515.8 L1064.9 502.6 L1065.2 504 L1065.4 492.3 L1065.7 490.6 L1066 491 L1066.2 494.7 L1066.5 520.5 L1066.8 544.8 L1067 542.3 L1067.3 537.4 L1067.6 528.3 L1067.9 528.2 L1068.1 492.7 L1068.4 489.8 L1068.7 465 L1068.9 477.9 L1069.2 506.5 L1069.5 516.4 L1069.7 532 L1070 535.5 L1070.3 524 L1070.6 501.3 L1070.8 494.1 L1071.1 496.7 L1071.4 499.7 L1071.6 502.7 L1071.9 491.9 L1072.2 497.9 L1072.4 513 L1072.7 514.7 L1073 499.2 L1073.3 490 L1073.5 495.4 L1073.8 511.5 L1074.1 517 L1074.3 516.5 L1074.6 520.4 L1074.9 494.8 L1075.1 494.6 L1075.4 502.1 L1075.7 512.5 L1076 508.9 L1076.2 503.4 L1076.5 491 L1076.8 490.3 L1077 492.4 L1077.3 507.6 L1077.6 496.6 L1077.8 509.8 L1078.1 506 L1078.4 514.1 L1078.7 526 L1078.9 525.2 L1079.2 528.8 L1079.5 526.8 L1079.7 512.9 L1080 496.5 L1080.3 494.3 L1080.5 501.6 L1080.8 515 L1081.1 517.8 L1081.4 508 L1081.6 497.3 L1081.9 496.3 L1082.2 507.5 L1082.4 505.9 L1082.7 497.5 L1083 503.2 L1083.2 514.2 L1083.5 509.5 L1083.8 508.8 L1084.1 497.2 L1084.3 490.9 L1084.6 491.6 L1084.9 500.1 L1085.1 505 L1085.4 525.2 L1085.7 530.9 L1085.9 527 L1086.2 515.5 L1086.5 501.3 L1086.8 486.4 L1087 476.9 L1087.3 473.9 L1087.6 486.9 L1087.8 499.1 L1088.1 525.1 L1088.4 529.4 L1088.6 520 L1088.9 511.3 L1089.2 498.5 L1089.5 494.3 L1089.7 507.1 L1090 500.2 L1090.3 515.3 L1090.5 513.7 L1090.8 521.6 L1091.1 515.3 L1091.3 498.4 L1091.6 497.1 L1091.9 495.5 L1092.2 501.8 L1092.4 494 L1092.7 510.5 L1093 519.2 L1093.2 518.1 L1093.5 528.1 L1093.8 541.6 L1094 531.1 L1094.3 525.5 L1094.6 504.8 L1094.9 489.4 L1095.1 486.1 L1095.4 490.5 L1095.7 494.4 L1095.9 511.4 L1096.2 530.8 L1096.5 529.9 L1096.7 517.4 L1097 512.1 L1097.3 506.5 L1097.6 500.8 L1097.8 509.9 L1098.1 508.4 L1098.4 512.9 L1098.6 505.5 L1098.9 521.5 L1099.2 518.7 L1099.4 508 L1099.7 501.5 L1100 513.2 L1100.3 519.3 L1100.5 524.8 L1100.8 510.1 L1101.1 514.2 L1101.3 500.2 L1101.6 494.6 L1101.9 494.9 L1102.1 498.2 L1102.4 497.7 L1102.7 512.7 L1103 506.2 L1103.2 510.7 L1103.5 500.8 L1103.8 507.5 L1104 505.7 L1104.3 501.9 L1104.6 488.1 L1104.8 493.5 L1105.1 499.5 L1105.4 498.5 L1105.7 506.1 L1105.9 499.8 L1106.2 504.1 L1106.5 500.8 L1106.7 501.3 L1107 506 L1107.3 500.8 L1107.5 508.6 L1107.8 495 L1108.1 507.3 L1108.4 497.2 L1108.6 498.8 L1108.9 507.4 L1109.2 513.9 L1109.4 514.9 L1109.7 511.9 L1110 504.1 L1110.2 515.6 L1110.5 518 L1110.8 528.2 L1111.1 520.5 L1111.3 517.3 L1111.6 511.5 L1111.9 505.4 L1112.1 494.3 L1112.4 496.3 L1112.7 508.2 L1112.9 509 L1113.2 499 L1113.5 505.7 L1113.8 514.5 L1114 532 L1114.3 530.3 L1114.6 523.5 L1114.8 507 L1115.1 497.9 L1115.4 503.1 L1115.6 510.7 L1115.9 504.4 L1116.2 505.4 L1116.5 511.6 L1116.7 507.1 L1117 511.4 L1117.3 510.2 L1117.5 502.5 L1117.8 509.3 L1118.1 505.2 L1118.3 519.4 L1118.6 525.8 L1118.9 512.6 L1119.2 502.5 L1119.4 499.5 L1119.7 512.6 L1120 513.9 L1120.2 510.9 L1120.5 505.5 L1120.8 514.6 L1121 511.4 L1121.3 512.1 L1121.6 498.7 L1121.9 501.3 L1122.1 491.2 L1122.4 488.1 L1122.7 495.4 L1122.9 497.9 L1123.2 500.2 L1123.5 496.9 L1123.7 496.6 L1124 502.1 L1124.3 500.7 L1124.6 506.4 L1124.8 510.4 L1125.1 506.7 L1125.4 504.2 L1125.6 499.3 L1125.9 506.7 L1126.2 504.3 L1126.4 496 L1126.7 491.5 L1127 506.3 L1127.3 519.8 L1127.5 518.8 L1127.8 520 L1128.1 520.2 L1128.3 505.9 L1128.6 497.2 L1128.9 491.9 L1129.1 492.9 L1129.4 506 L1129.7 515.9 L1130 522.4 L1130.2 526.1 L1130.5 523.7 L1130.8 510.1 L1131 508.5 L1131.3 500.6 L1131.6 493.2 L1131.8 508.4 L1132.1 516.6 L1132.4 518.2 L1132.7 512.6 L1132.9 513.2 L1133.2 511.6 L1133.5 502.1 L1133.7 507.4 L1134 510.9 L1134.3 516.8 L1134.5 534.5 L1134.8 528.5 L1135.1 516.4 L1135.3 506.7 L1135.6 507.2 L1135.9 513.1 L1136.2 510.8 L1136.4 515.8 L1136.7 512.6 L1137 514.6 L1137.2 516.8 L1137.5 517.4 L1137.8 509.4 L1138 507.2 L1138.3 515.8 L1138.6 497.6 L1138.9 488.4 L1139.1 490.3 L1139.4 500.5 L1139.7 520.7 L1139.9 523.1 L1140.2 534.2 L1140.5 521.5 L1140.7 508.6 L1141 503.6 L1141.3 477.5 L1141.6 465 L1141.8 475.1 L1142.1 479.6 L1142.4 482.5 L1142.6 506.9 L1142.9 524.3 L1143.2 542 L1143.4 525.1 L1143.7 508 L1144 500.3 L1144.3 488.7 L1144.5 489.1 L1144.8 493.5 L1145.1 504.8 L1145.3 501.3 L1145.6 525.1 L1145.9 534.3 L1146.1 535.9 L1146.4 525 L1146.7 505.5 L1147 492.8 L1147.2 492.3 L1147.5 492.3 L1147.8 514.2 L1148 525.3 L1148.3 542.4 L1148.6 531.6 L1148.8 514 L1149.1 496.2 L1149.4 488.3 L1149.7 500.2 L1149.9 512.3 L1150.2 524.3 L1150.5 532.8 L1150.7 514.2 L1151 504.7 L1151.3 489 L1151.5 487.7 L1151.8 501.9 L1152.1 512.3 L1152.4 517.7 L1152.6 527.7 L1152.9 526.8 L1153.2 522.8 L1153.4 507.9 L1153.7 494.5 L1154 493.5 L1154.2 485.6 L1154.5 496.7 L1154.8 507.2 L1155.1 521.6 L1155.3 521.9 L1155.6 523.6 L1155.9 516.6 L1156.1 513.6 L1156.4 501.1 L1156.7 513.5 L1156.9 509.7 L1157.2 502.6 L1157.5 488.5 L1157.8 489 L1158 477.6 L1158.3 485.4 L1158.6 492.1 L1158.8 499.1 L1159.1 509.9 L1159.4 525.7 L1159.6 526.4 L1159.9 517.6 L1160.2 500.5 L1160.5 487.9 L1160.7 474.8 L1161 475.2 L1161.3 476.7 L1161.5 488.7 L1161.8 511.9 L1162.1 509.4 L1162.3 521.4 L1162.6 516.9 L1162.9 536.2 L1163.2 529.1 L1163.4 522.8 L1163.7 510.8 L1164 500.7 L1164.2 494.4 L1164.5 495.4 L1164.8 502.6 L1165 508.2 L1165.3 504.4 L1165.6 504.8 L1165.9 505.7 L1166.1 509.6 L1166.4 507.7 L1166.7 498.8 L1166.9 497 L1167.2 501.3 L1167.5 515.9 L1167.7 515.4 L1168 526.6 L1168.3 526.8 L1168.6 514.9 L1168.8 493.1 L1169.1 480.6 L1169.4 487.7 L1169.6 502.2 L1169.9 505.5 L1170.2 515 L1170.4 512.8 L1170.7 500.3 L1171 492.5 L1171.3 486.2 L1171.5 494.8 L1171.8 504.1 L1172.1 516.9 L1172.3 522.2 L1172.6 509.7 L1172.9 490.7 L1173.1 489 L1173.4 503.9 L1173.7 527.4 L1174 530 L1174.2 523.2 L1174.5 507.3 L1174.8 498.7 L1175 490.7 L1175.3 490.5 L1175.6 489 L1175.8 517.1 L1176.1 522.9 L1176.4 525.8 L1176.7 518.7 L1176.9 521 L1177.2 517.6 L1177.5 510.1 L1177.7 510 L1178 496.7 L1178.3 494 L1178.5 493.2 L1178.8 500.5 L1179.1 499.2 L1179.4 526.1 L1179.6 531.2 L1179.9 513.2 L1180.2 512 L1180.4 500.9 L1180.7 503.2 L1181 509.4 L1181.2 507.8 L1181.5 505.3 L1181.8 511.1 L1182.1 496.2 L1182.3 500.6 L1182.6 526.1 L1182.9 532.6 L1183.1 523.7 L1183.4 527.5 L1183.7 515.7 L1183.9 518 L1184.2 527.5 L1184.5 517.7 L1184.8 509.1 L1185 507 L1185.3 485.2 L1185.6 476.8 L1185.8 485 L1186.1 491.9 L1186.4 501.2 L1186.6 519.3 L1186.9 530.5 L1187.2 534 L1187.5 528.5 L1187.7 507.4 L1188 490 L1188.3 488.6 L1188.5 497.7 L1188.8 507.2 L1189.1 502.5 L1189.3 496.6 L1189.6 504.3 L1189.9 500.9 L1190.2 499.5 L1190.4 506.7 L1190.7 499.3 L1191 485 L1191.2 484.4 L1191.5 483 L1191.8 508.4 L1192 517.1 L1192.3 523.4 L1192.6 527.2 L1192.9 517.3 L1193.1 507 L1193.4 505 L1193.7 514.6 L1193.9 504.5 L1194.2 511.3 L1194.5 507.8 L1194.7 504.5 L1195 491.5 L1195.3 508.1 L1195.6 516.2 L1195.8 533.5 L1196.1 533.7 L1196.4 550.6 L1196.6 550.6 L1196.9 528.9 L1197.2 495.6 L1197.4 480.1 L1197.7 472.1 L1198 482.4 L1198.3 498.6 L1198.5 530.9 L1198.8 540.3 L1199.1 526.1 L1199.3 506.2 L1199.6 504.2 L1199.9 519.2 L1200.1 508.4 L1200.4 503.5 L1200.7 489.6 L1201 498.9 L1201.2 515 L1201.5 514.6 L1201.8 510.2 L1202 498.1 L1202.3 489.6 L1202.6 487.8 L1202.8 509.2 L1203.1 518 L1203.4 509.9 L1203.7 517.9 L1203.9 508.3 L1204.2 508.7 L1204.5 508.6 L1204.7 510.1 L1205 502.2 L1205.3 502.6 L1205.5 505.3 L1205.8 510.8 L1206.1 515.4 L1206.4 513.1 L1206.6 508.8 L1206.9 512.8 L1207.2 505.1 L1207.4 486.2 L1207.7 494.1 L1208 497.9 L1208.2 506.2 L1208.5 512.5 L1208.8 508.8 L1209.1 502.9 L1209.3 500.5 L1209.6 500.5 L1209.9 508.6 L1210.1 516.2 L1210.4 520.5 L1210.7 523.5 L1210.9 520.1 L1211.2 513.7 L1211.5 484.2 L1211.8 485.6 L1212 487.2 L1212.3 473.3 L1212.6 485.2 L1212.8 492.5 L1213.1 504 L1213.4 514.5 L1213.6 525 L1213.9 521.3 L1214.2 514.1 L1214.5 485.5 L1214.7 474 L1215 470.8 L1215.3 476.6 L1215.5 491.7 L1215.8 526.1 L1216.1 541.7 L1216.3 539 L1216.6 522.8 L1216.9 482.3 L1217.2 466.2 L1217.4 461.6 L1217.7 469.4 L1218 486.9 L1218.2 507 L1218.5 519.2 L1218.8 514.3 L1219 518.7 L1219.3 518.8 L1219.6 521.8 L1219.9 513.7 L1220.1 493.6 L1220.4 492.8 L1220.7 487.7 L1220.9 503.8 L1221.2 504.7 L1221.5 513.6 L1221.7 525.5 L1222 516.5 L1222.3 520.7 L1222.6 519.2 L1222.8 509.5 L1223.1 500.8 L1223.4 509.9 L1223.6 500.8 L1223.9 508.3 L1224.2 512.2 L1224.4 517.3 L1224.7 499.8 L1225 493.6 L1225.3 478 L1225.5 488.3 L1225.8 499 L1226.1 509 L1226.3 517.7 L1226.6 528.3 L1226.9 526.3 L1227.1 508.6 L1227.4 500.7 L1227.7 486.1 L1228 474.3 L1228.2 488.6 L1228.5 507.4 L1228.8 516.8 L1229 514.9 L1229.3 510.9 L1229.6 514 L1229.8 513.5 L1230.1 503.1 L1230.4 506.8 L1230.7 504.5 L1230.9 514.6 L1231.2 505.2 L1231.5 504.6 L1231.7 504.4 L1232 507.5 L1232.3 511.6 L1232.5 521.3 L1232.8 515.1 L1233.1 500.9 L1233.4 490.3 L1233.6 485.4 L1233.9 499 L1234.2 518.4 L1234.4 526.9 L1234.7 531.2 L1235 520.2 L1235.2 513.6 L1235.5 505.7 L1235.8 501.5 L1236.1 505.4 L1236.3 493.1 L1236.6 495.1 L1236.9 486.4 L1237.1 489 L1237.4 503.4 L1237.7 506.2 L1237.9 520.5 L1238.2 518 L1238.5 525.7 L1238.8 523.1 L1239 514.3 L1239.3 500.8 L1239.6 494 L1239.8 488.1 L1240.1 503.5 L1240.4 509.9 L1240.6 522.1 L1240.9 525.7 L1241.2 509.8 L1241.5 492.6 L1241.7 495.4 L1242 486.9 L1242.3 486.4 L1242.5 491.8 L1242.8 498.8 L1243.1 500.4 L1243.3 506.5 L1243.6 503.4 L1243.9 504.6 L1244.2 509.1 L1244.4 512.5 L1244.7 513.3 L1245 513.3 L1245.2 499.9 L1245.5 501.6 L1245.8 505.6 L1246 516.2 L1246.3 518.4 L1246.6 509.1 L1246.9 505.1 L1247.1 496.5 L1247.4 512.9 L1247.7 514.7 L1247.9 515.3 L1248.2 519.9 L1248.5 520.4 L1248.7 512.5 L1249 509.8 L1249.3 498.5 L1249.6 490.1 L1249.8 497.8 L1250.1 504.2 L1250.4 508.9 L1250.6 523.4 L1250.9 516.3 L1251.2 511.3 L1251.4 505 L1251.7 495.9 L1252 494.5 L1252.3 497.3 L1252.5 507.1 L1252.8 511.1 L1253.1 514.2 L1253.3 515.1 L1253.6 511.7 L1253.9 513.1 L1254.1 507.5 L1254.4 518.8 L1254.7 519.2 L1255 518.1 L1255.2 509.6 L1255.5 494.2 L1255.8 508 L1256 524.9 L1256.3 525.6 L1256.6 511.3 L1256.8 494.9 L1257.1 495.9 L1257.4 496.1 L1257.7 498.3 L1257.9 510.8 L1258.2 502.1 L1258.5 509.8 L1258.7 509.9 L1259 503.7 L1259.3 507 L1259.5 515.6 L1259.8 505.4 L1260.1 503.8 L1260.4 506.3 L1260.6 499.9 L1260.9 503 L1261.2 501 L1261.4 503.3 L1261.7 504.8 L1262 510.1 L1262.2 505.6 L1262.5 510.8 L1262.8 498.1 L1263.1 489.2 L1263.3 503.7 L1263.6 513 L1263.9 531.4 L1264.1 537.3 L1264.4 532.6 L1264.7 507 L1264.9 488.8 L1265.2 487.2 L1265.5 480.5 L1265.8 487 L1266 503.4 L1266.3 514.3 L1266.6 510.3 L1266.8 506 L1267.1 498.2 L1267.4 499.9 L1267.6 506.6 L1267.9 511.3 L1268.2 514.7 L1268.5 520.6 L1268.7 517.6 L1269 506.7 L1269.3 504.3 L1269.5 485 L1269.8 488.1 L1270.1 502.6 L1270.3 508.1 L1270.6 518.5 L1270.9 532.4 L1271.2 528.3 L1271.4 514.6 L1271.7 510.3 L1272 493.3 L1272.2 493.2 L1272.5 491.6 L1272.8 491.2 L1273 497.9 L1273.3 507.4 L1273.6 499.1 L1273.9 495.8 L1274.1 501.1 L1274.4 504.4 L1274.7 511.7 L1274.9 509.8 L1275.2 511.4 L1275.5 510.9 L1275.7 512 L1276 509.8 L1276.3 503.4 L1276.6 501.3 L1276.8 511.2 L1277.1 504.4 L1277.4 499.1 L1277.6 499.4 L1277.9 498 L1278.2 502.3 L1278.4 510.2 L1278.7 516.5 L1279 519.2 L1279.3 525.1 L1279.5 529.4 L1279.8 526.7 L1280.1 513.5 L1280.3 504.4 L1280.6 501.9 L1280.9 498 L1281.1 514.1 L1281.4 511.5 L1281.7 508.2 L1282 512.8 L1282.2 514.5 L1282.5 514.4 L1282.8 510.5 L1283 505.4 L1283.3 499.6 L1283.6 504.5 L1283.8 509.4 L1284.1 500.2 L1284.4 496.8 L1284.7 484.6 L1284.9 488.7 L1285.2 504.4 L1285.5 512.1 L1285.7 515.8 L1286 514.4 L1286.3 508 L1286.5 514.3 L1286.8 497.5 L1287.1 500.9 L1287.4 496.2 L1287.6 490 L1287.9 494.1 L1288.2 504.4 L1288.4 509.1 L1288.7 520.4 L1289 511.1 L1289.2 500.7 L1289.5 488.7 L1289.8 501.9 L1290.1 506.1 L1290.3 515.2 L1290.6 514.9 L1290.9 518 L1291.1 524.4 L1291.4 525 L1291.7 523.9 L1291.9 510.3 L1292.2 505.1 L1292.5 509.9 L1292.8 510.8 L1293 507.8 L1293.3 512.4 L1293.6 522.7 L1293.8 514.8 L1294.1 512.7 L1294.4 511.9 L1294.6 493.3 L1294.9 486.4 L1295.2 491.5 L1295.5 501 L1295.7 502.1 L1296 506.8 L1296.3 511.1" fill="none" stroke="#000" stroke-width="1.1" stroke-linejoin="round"/>
<path d="M325.4 510.2 L326.2 510.4 L327 510.1 L327.8 509.4 L328.6 508.4 L329.4 506.8 L330.3 505.1 L331.1 503.8 L331.9 503.6 L332.7 505 L333.5 507.3 L334.3 509.7 L335.1 511.6 L335.9 512.6 L336.7 512.2 L337.5 510.7 L338.4 508.5 L339.2 506.5 L340 505.5 L340.8 505.7 L341.6 506.9 L342.4 508.5 L343.2 510 L344 511.2 L344.8 512 L345.6 512.1 L346.5 511.4 L347.3 510.3 L348.1 509 L348.9 507.9 L349.7 507.1 L350.5 506.5 L351.3 506.1 L352.1 506.1 L352.9 506.4 L353.7 506.7 L354.6 506.9 L355.4 506.9 L356.2 506.8 L357 506.3 L357.8 505.2 L358.6 503.6 L359.4 501.6 L360.2 500.1 L361 499.7 L361.8 500.1 L362.7 500.6 L363.5 500.2 L364.3 499.4 L365.1 498.9 L365.9 499.4 L366.7 500.5 L367.5 501.6 L368.3 502.7 L369.1 504.2 L369.9 506.1 L370.8 507.6 L371.6 507.9 L372.4 506.8 L373.2 505.4 L374 504.9 L374.8 505.5 L375.6 506.8 L376.4 508.3 L377.2 509.5 L378 510.1 L378.9 510.2 L379.7 510.3 L380.5 510.6 L381.3 511.2 L382.1 511.9 L382.9 512.3 L383.7 512.3 L384.5 511.4 L385.3 510 L386.1 508.6 L387 508.2 L387.8 508.7 L388.6 509.3 L389.4 509.5 L390.2 509.1 L391 508.6 L391.8 508.3 L392.6 507.9 L393.4 507.4 L394.2 506.9 L395.1 506.7 L395.9 506.7 L396.7 506.5 L397.5 505.6 L398.3 504 L399.1 502.3 L399.9 501.2 L400.7 501 L401.5 501.8 L402.3 503.1 L403.2 504.5 L404 505.6 L404.8 505.9 L405.6 505.1 L406.4 503.7 L407.2 502.6 L408 502.2 L408.8 502.9 L409.6 504.4 L410.4 506.2 L411.3 508 L412.1 509.2 L412.9 509.3 L413.7 508.4 L414.5 507.1 L415.3 506.4 L416.1 506.7 L416.9 507.8 L417.7 509.1 L418.5 510.1 L419.4 510.5 L420.2 510.2 L421 509.6 L421.8 509 L422.6 508.9 L423.4 509.4 L424.2 509.9 L425 509.7 L425.8 508.4 L426.6 506.1 L427.5 504 L428.3 503.1 L429.1 504 L429.9 506.1 L430.7 508.2 L431.5 509.5 L432.3 510 L433.1 509.8 L433.9 509.2 L434.7 507.8 L435.6 506 L436.4 504.2 L437.2 503.3 L438 503.5 L438.8 504.4 L439.6 505.6 L440.4 507.1 L441.2 508.6 L442 510 L442.8 510.7 L443.7 510.4 L444.5 509.3 L445.3 507.8 L446.1 506.7 L446.9 506.6 L447.7 507.6 L448.5 509.1 L449.3 510.2 L450.1 510.3 L450.9 509.6 L451.8 508.8 L452.6 507.9 L453.4 506.9 L454.2 505.3 L455 503.6 L455.8 502.2 L456.6 501.4 L457.4 501.3 L458.2 501.5 L459 501.5 L459.9 501.2 L460.7 500.4 L461.5 499.5 L462.3 499.3 L463.1 500.3 L463.9 502.8 L464.7 506 L465.5 508.8 L466.3 510.5 L467.1 510.8 L468 510.2 L468.8 509.1 L469.6 508.1 L470.4 507.2 L471.2 506.4 L472 505.9 L472.8 505.6 L473.6 505.8 L474.4 506.2 L475.2 506.5 L476.1 506.3 L476.9 505.7 L477.7 504.6 L478.5 503.1 L479.3 501.4 L480.1 500.5 L480.9 501.1 L481.7 503 L482.5 505.5 L483.3 507.8 L484.2 509.1 L485 509 L485.8 507.9 L486.6 506.4 L487.4 505.3 L488.2 504.9 L489 504.5 L489.8 503.8 L490.6 503.2 L491.4 503.4 L492.2 504.4 L493.1 505.9 L493.9 507.3 L494.7 508.2 L495.5 508.6 L496.3 508.5 L497.1 508.2 L497.9 508.1 L498.7 508.4 L499.5 509.1 L500.3 509.8 L501.2 509.6 L502 508.6 L502.8 507.3 L503.6 506.8 L504.4 507.6 L505.2 509.3 L506 510.7 L506.8 511.2 L507.6 511 L508.4 510.4 L509.3 509.6 L510.1 508.9 L510.9 509 L511.7 510.1 L512.5 511.8 L513.3 513.2 L514.1 513.9 L514.9 514 L515.7 513.7 L516.5 512.7 L517.4 511.4 L518.2 510.2 L519 510.1 L519.8 511 L520.6 512.6 L521.4 513.8 L522.2 514.3 L523 514.3 L523.8 514 L524.6 513.3 L525.5 512.4 L526.3 511.1 L527.1 509.5 L527.9 507.6 L528.7 505.7 L529.5 504.1 L530.3 502.5 L531.1 501.3 L531.9 500.6 L532.7 500.6 L533.6 500.9 L534.4 501.3 L535.2 501.9 L536 502.9 L536.8 503.9 L537.6 504.5 L538.4 504.9 L539.2 505.2 L540 505.8 L540.8 506.5 L541.7 507 L542.5 507.1 L543.3 507 L544.1 507.2 L544.9 507.8 L545.7 508.9 L546.5 509.8 L547.3 510.2 L548.1 510 L548.9 509.3 L549.8 508.7 L550.6 508.4 L551.4 508.6 L552.2 508.9 L553 509 L553.8 508.4 L554.6 507.6 L555.4 507.6 L556.2 508.8 L557 510.8 L557.9 512 L558.7 511.8 L559.5 510.7 L560.3 509.7 L561.1 509.5 L561.9 510.5 L562.7 512.3 L563.5 514.3 L564.3 515.5 L565.1 515.1 L566 512.7 L566.8 509.1 L567.6 505.3 L568.4 502.6 L569.2 501.3 L570 501.1 L570.8 501.8 L571.6 502.9 L572.4 504.3 L573.2 505.6 L574.1 506.8 L574.9 507.5 L575.7 507.4 L576.5 507.1 L577.3 507.4 L578.1 508.7 L578.9 510.7 L579.7 512.5 L580.5 513.6 L581.3 513.8 L582.2 513.5 L583 513 L583.8 512.5 L584.6 512.3 L585.4 512.2 L586.2 512.4 L587 512.5 L587.8 512.6 L588.6 512.7 L589.4 512.5 L590.3 511.6 L591.1 510 L591.9 508.1 L592.7 506.6 L593.5 506 L594.3 506 L595.1 506.4 L595.9 506.7 L596.7 507.1 L597.5 507.6 L598.4 507.9 L599.2 507.6 L600 506.9 L600.8 506.1 L601.6 505.9 L602.4 506.1 L603.2 506.8 L604 507.8 L604.8 509 L605.6 509.6 L606.5 509.3 L607.3 508 L608.1 506.1 L608.9 504.4 L609.7 503.1 L610.5 502.9 L611.3 503.8 L612.1 505.8 L612.9 507.7 L613.7 508.6 L614.6 508.3 L615.4 507.5 L616.2 506.9 L617 506.6 L617.8 506.4 L618.6 506.2 L619.4 506.3 L620.2 506.5 L621 506.5 L621.8 506.4 L622.7 506.1 L623.5 506 L624.3 506.4 L625.1 507.6 L625.9 509.7 L626.7 512 L627.5 513.5 L628.3 513.7 L629.1 513.1 L629.9 512.5 L630.8 512.6 L631.6 513.1 L632.4 513.4 L633.2 513 L634 512.1 L634.8 511.3 L635.6 510.6 L636.4 510.1 L637.2 509.4 L638 508.7 L638.9 508.3 L639.7 508.2 L640.5 508.5 L641.3 508.8 L642.1 508.7 L642.9 508.4 L643.7 507.8 L644.5 507 L645.3 505.9 L646.1 504.6 L647 503.4 L647.8 502.6 L648.6 502.4 L649.4 502.3 L650.2 502 L651 501.8 L651.8 501.8 L652.6 502 L653.4 501.9 L654.2 501.4 L655 500.8 L655.9 500.6 L656.7 501.2 L657.5 502.3 L658.3 503.5 L659.1 504.5 L659.9 505.4 L660.7 506.4 L661.5 507.2 L662.3 507.8 L663.1 508.2 L664 508.7 L664.8 509.2 L665.6 509.4 L666.4 508.9 L667.2 507.5 L668 505.9 L668.8 504.8 L669.6 504.9 L670.4 505.9 L671.2 507 L672.1 507.6 L672.9 507.6 L673.7 507.2 L674.5 506.9 L675.3 506.9 L676.1 507 L676.9 506.7 L677.7 505.7 L678.5 504 L679.3 502.3 L680.2 501.1 L681 500.3 L681.8 499.6 L682.6 498.6 L683.4 497.5 L684.2 496.7 L685 497 L685.8 498.2 L686.6 499.8 L687.4 500.9 L688.3 501.8 L689.1 502.8 L689.9 504 L690.7 505 L691.5 505.3 L692.3 504.8 L693.1 504.1 L693.9 503.7 L694.7 503.5 L695.5 503.1 L696.4 502.8 L697.2 503.3 L698 504.6 L698.8 505.9 L699.6 506.6 L700.4 506.4 L701.2 505.7 L702 505.3 L702.8 506.1 L703.6 507.9 L704.5 510 L705.3 511.3 L706.1 511.7 L706.9 511.2 L707.7 510.1 L708.5 508.8 L709.3 507.5 L710.1 506.4 L710.9 505.5 L711.7 504.5 L712.6 503.3 L713.4 502.4 L714.2 502.4 L715 503.6 L715.8 505.7 L716.6 507.8 L717.4 509 L718.2 509 L719 508.3 L719.8 507.2 L720.7 506.4 L721.5 506.3 L722.3 507.1 L723.1 508.5 L723.9 510.1 L724.7 511.3 L725.5 511.9 L726.3 511.3 L727.1 509.6 L727.9 507.5 L728.8 505.8 L729.6 504.8 L730.4 504.4 L731.2 504.4 L732 504.6 L732.8 505.2 L733.6 506 L734.4 506.8 L735.2 507.3 L736 508 L736.9 508.8 L737.7 509.6 L738.5 509.4 L739.3 507.6 L740.1 504.6 L740.9 501.2 L741.7 499 L742.5 498.7 L743.3 500.3 L744.1 502.9 L745 505.3 L745.8 506.5 L746.6 506.2 L747.4 505 L748.2 503.6 L749 502.8 L749.8 502.9 L750.6 503.9 L751.4 505.2 L752.2 505.9 L753.1 505.9 L753.9 505.6 L754.7 505.7 L755.5 506.3 M786.3 513.5 L787.1 511.3 L787.9 509.3 L788.7 507.9 L789.5 507 L790.3 506.5 L791.1 506.2 L791.9 506.3 L792.7 507.2 L793.6 508.7 L794.4 510 L795.2 510.7 L796 510.5 L796.8 510 L797.6 509.7 L798.4 509.6 L799.2 509.8 L800 509.9 L800.8 509.9 L801.7 509.7 L802.5 509.4 L803.3 509 L804.1 508.7 L804.9 509.1 L805.7 510.4 L806.5 511.8 L807.3 512.3 L808.1 511.5 L808.9 509.7 L809.8 508.2 L810.6 508 L811.4 509.3 L812.2 511.1 L813 512.4 L813.8 512.7 L814.6 512.5 L815.4 512.2 L816.2 511.9 L817 511.2 L817.8 510 L818.7 508.8 L819.5 508.3 L820.3 509 L821.1 510.5 L821.9 511.6 L822.7 511.5 L823.5 510.5 L824.3 509.4 L825.1 509 L825.9 509.3 L826.8 509.8 L827.6 510.4 L828.4 510.7 L829.2 510.8 L830 510.5 L830.8 509.7 L831.6 508.3 L832.4 506.3 L833.2 504.4 L834 503.2 L834.9 503 L835.7 503.7 L836.5 505 L837.3 506.5 L838.1 507.8 L838.9 508.4 L839.7 508.4 L840.5 508.2 L841.3 508.1 L842.1 508.1 L843 508.1 L843.8 508 L844.6 508 L845.4 508.2 L846.2 508.8 L847 510.1 L847.8 511.8 L848.6 513.3 L849.4 514 L850.2 513.5 L851.1 512.3 L851.9 510.8 L852.7 509.2 L853.5 507.5 L854.3 505.6 L855.1 503.8 L855.9 502.7 L856.7 502.7 L857.5 503.6 L858.3 504.9 L859.2 506.1 L860 507.3 L860.8 508.4 L861.6 509.3 L862.4 509.9 L863.2 510 L864 509.5 L864.8 508.6 L865.6 507.2 L866.4 505.6 L867.3 504.2 L868.1 503.1 L868.9 502 L869.7 500.8 L870.5 499.6 L871.3 498.7 L872.1 498.7 L872.9 500 L873.7 502.5 L874.5 505.5 L875.4 508.2 L876.2 509.8 L877 510.1 L877.8 509.1 L878.6 507.1 L879.4 504.6 L880.2 502.3 L881 500.9 L881.8 500.4 L882.6 500.6 L883.5 501.5 L884.3 502.7 L885.1 504 L885.9 505.3 L886.7 506.6 L887.5 507.7 L888.3 508.4 L889.1 508.9 L889.9 509.8 L890.7 511.4 L891.6 513.3 L892.4 514.9 L893.2 515.5 L894 514.9 L894.8 513.4 L895.6 511.4 L896.4 509.6 L897.2 508.2 L898 507 L898.8 505.7 L899.7 504.2 L900.5 502.8 L901.3 501.8 L902.1 501 L902.9 500.7 L903.7 500.9 L904.5 501.4 L905.3 502.2 L906.1 502.8 L906.9 503.2 L907.8 503.6 L908.6 504 L909.4 504.2 L910.2 503.8 L911 502.7 L911.8 501.4 L912.6 500.3 L913.4 499.7 L914.2 499.6 L915 499.9 L915.9 500.7 L916.7 501.6 L917.5 502.6 L918.3 503.4 L919.1 503.7 L919.9 503.7 L920.7 503.7 L921.5 504 L922.3 504.9 L923.1 506.2 L924 507.5 L924.8 508.3 L925.6 508.5 L926.4 508.6 L927.2 508.8 L928 508.5 L928.8 507.6 L929.6 506.2 L930.4 505.1 L931.2 504.8 L932.1 505.7 L932.9 507.2 L933.7 508.7 L934.5 509.7 L935.3 510.1 L936.1 510 L936.9 509.9 L937.7 510.2 L938.5 510.8 L939.3 511.5 L940.2 512.2 L941 512.8 L941.8 513 L942.6 512.2 L943.4 510.5 L944.2 508.3 L945 506.1 L945.8 504.2 L946.6 502.6 L947.4 501.1 L948.3 500.3 L949.1 500.8 L949.9 502.6 L950.7 505.2 L951.5 508 L952.3 510.3 L953.1 512.1 L953.9 513.2 L954.7 513.6 L955.5 513 L956.4 511.6 L957.2 510.2 L958 509.7 L958.8 510.3 L959.6 511.2 L960.4 511.3 L961.2 510.5 L962 509.3 L962.8 508.7 L963.6 508.9 L964.5 509.5 L965.3 509.7 L966.1 509 L966.9 508 L967.7 507.9 L968.5 508.9 L969.3 510.5 L970.1 511.4 L970.9 510.9 L971.7 509.1 L972.6 506.8 L973.4 504.9 L974.2 504 L975 504.5 L975.8 505.8 L976.6 507.2 L977.4 507.9 L978.2 507.7 L979 507.1 L979.8 506.7 L980.6 506.8 L981.5 507.4 L982.3 507.9 L983.1 507.9 L983.9 507.4 L984.7 506.9 L985.5 506.8 L986.3 507.1 L987.1 507.4 L987.9 507.2 L988.7 506.1 L989.6 504.2 L990.4 502.2 L991.2 500.6 L992 500.3 L992.8 501.5 L993.6 503.8 L994.4 506.3 L995.2 508 L996 508.4 L996.8 507.8 L997.7 506.9 L998.5 506.4 L999.3 506.6 L1000.1 506.8 L1000.9 506.6 L1001.7 505.6 L1002.5 504.3 L1003.3 503.4 L1004.1 503.7 L1004.9 505.1 L1005.8 506.7 L1006.6 507.8 L1007.4 508 L1008.2 507.6 L1009 506.9 L1009.8 506.1 L1010.6 505.2 L1011.4 504.3 L1012.2 503.8 L1013 503.7 L1013.9 504.1 L1014.7 504.9 L1015.5 506.2 L1016.3 507.9 L1017.1 509.9 L1017.9 511.6 L1018.7 512.9 L1019.5 513.5 L1020.3 513.2 L1021.1 512.4 L1022 511.2 L1022.8 509.8 L1023.6 508.5 L1024.4 507.2 L1025.2 506.1 L1026 505.4 L1026.8 504.6 L1027.6 503.9 L1028.4 503.3 L1029.2 503.2 L1030.1 503.6 L1030.9 504.2 L1031.7 504.8 L1032.5 505.2 L1033.3 505.5 L1034.1 506 L1034.9 506.7 L1035.7 507.4 L1036.5 508.1 L1037.3 508.5 L1038.2 508.7 L1039 509 L1039.8 509.6 L1040.6 510 L1041.4 509.4 L1042.2 507.7 L1043 505.5 L1043.8 503.5 L1044.6 502 L1045.4 500.6 L1046.3 499.1 L1047.1 497.8 L1047.9 497.3 L1048.7 498 L1049.5 499.4 L1050.3 500.8 L1051.1 501.5 L1051.9 501.9 L1052.7 502.6 L1053.5 503.7 L1054.4 504.7 L1055.2 505.6 L1056 506.3 L1056.8 506.8 L1057.6 507 L1058.4 506.7 L1059.2 505.8 L1060 504.5 L1060.8 503.2 L1061.6 502.1 L1062.5 502.1 L1063.3 503.3 L1064.1 505.7 L1064.9 508.3 L1065.7 509.7 L1066.5 509.4 L1067.3 507.9 L1068.1 506.5 L1068.9 506.5 L1069.7 507.7 L1070.6 509 L1071.4 509.4 L1072.2 508.8 L1073 507.5 L1073.8 506.4 L1074.6 505.8 L1075.4 505.8 L1076.2 506 L1077 506 L1077.8 505.8 L1078.7 505.8 L1079.5 506.1 L1080.3 506.7 L1081.1 507.2 L1081.9 507.5 L1082.7 507.3 L1083.5 506.8 L1084.3 506.1 L1085.1 505.2 L1085.9 504.1 L1086.8 503.1 L1087.6 502.6 L1088.4 502.8 L1089.2 503.6 L1090 504.8 L1090.8 506.3 L1091.6 507.8 L1092.4 509.3 L1093.2 510.9 L1094 512.6 L1094.9 514 L1095.7 514.6 L1096.5 513.8 L1097.3 511.8 L1098.1 509.3 L1098.9 507.5 L1099.7 507.2 L1100.5 508.3 L1101.3 510.4 L1102.1 512.4 L1103 513.4 L1103.8 513.2 L1104.6 512.3 L1105.4 511.7 L1106.2 511.8 L1107 512.1 L1107.8 512 L1108.6 511.1 L1109.4 510 L1110.2 509.6 L1111.1 510.3 L1111.9 512.1 L1112.7 514 L1113.5 515.1 L1114.3 514.9 L1115.1 513.4 L1115.9 511.6 L1116.7 510.7 L1117.5 511.2 L1118.3 512.6 L1119.2 513.7 L1120 514 L1120.8 513.1 L1121.6 511.5 L1122.4 509.8 L1123.2 508.7 L1124 508.4 L1124.8 508.7 L1125.6 509 L1126.4 508.6 L1127.3 507.1 L1128.1 505.4 L1128.9 504.4 L1129.7 504.9 L1130.5 506.4 L1131.3 508.1 L1132.1 509.1 L1132.9 509.2 L1133.7 508.7 L1134.5 507.8 L1135.3 507.3 L1136.2 507.7 L1137 508.9 L1137.8 510.3 L1138.6 511.2 L1139.4 511.1 L1140.2 510 L1141 508.5 L1141.8 506.8 L1142.6 505.6 L1143.4 505.2 L1144.3 505.7 L1145.1 506.7 L1145.9 507.5 L1146.7 507.8 L1147.5 507.4 L1148.3 506.8 L1149.1 506.3 L1149.9 506.2 L1150.7 506.6 L1151.5 507.2 L1152.4 507.7 L1153.2 508 L1154 508 L1154.8 507.6 L1155.6 507 L1156.4 506.3 L1157.2 506.3 L1158 507.2 L1158.8 508.9 L1159.6 510.4 L1160.5 510.9 L1161.3 509.9 L1162.1 508 L1162.9 505.8 L1163.7 504.1 L1164.5 503.3 L1165.3 504.1 L1166.1 506.2 L1166.9 508.5 L1167.7 509.8 L1168.6 509.8 L1169.4 509.2 L1170.2 509 L1171 509.4 L1171.8 509.8 L1172.6 509 L1173.4 506.9 L1174.2 504.2 L1175 501.9 L1175.8 500.8 L1176.7 501.3 L1177.5 503 L1178.3 505.3 L1179.1 507.1 L1179.9 507.4 L1180.7 506.2 L1181.5 504.2 L1182.3 502.5 L1183.1 501.6 L1183.9 501.5 L1184.8 502.1 L1185.6 503.3 L1186.4 504.9 L1187.2 506.6 L1188 508.4 L1188.8 510.2 L1189.6 511.6 L1190.4 512.2 L1191.2 512 L1192 511.5 L1192.9 511.2 L1193.7 510.9 L1194.5 510.1 L1195.3 508.5 L1196.1 506.4 L1196.9 504.4 L1197.7 503.2 L1198.5 503.3 L1199.3 504.8 L1200.1 506.8 L1201 508.6 L1201.8 510.2 L1202.6 511.5 L1203.4 512.1 L1204.2 511.3 L1205 509.3 L1205.8 506.8 L1206.6 505.1 L1207.4 504.3 L1208.2 504.4 L1209.1 505.3 L1209.9 506.5 L1210.7 507.8 L1211.5 508.8 L1212.3 509.8 L1213.1 510.6 L1213.9 510.9 L1214.7 510.4 L1215.5 508.8 L1216.3 506.4 L1217.2 504 L1218 502.5 L1218.8 502.4 L1219.6 503.5 L1220.4 504.9 L1221.2 506.1 L1222 506.6 L1222.8 506.4 L1223.6 505.7 L1224.4 504.5 L1225.3 503 L1226.1 501.8 L1226.9 501.3 L1227.7 501.8 L1228.5 502.5 L1229.3 503 L1230.1 503.2 L1230.9 503.6 L1231.7 504.8 L1232.5 506.9 L1233.4 509.1 L1234.2 510.7 L1235 510.9 L1235.8 509.9 L1236.6 508.2 L1237.4 506.6 L1238.2 505.4 L1239 504.9 L1239.8 504.8 L1240.6 504.7 L1241.5 504.4 L1242.3 503.9 L1243.1 503.9 L1243.9 504.8 L1244.7 506.3 L1245.5 508 L1246.3 509.3 L1247.1 510.3 L1247.9 511.3 L1248.7 512.1 L1249.6 512.5 L1250.4 512.6 L1251.2 512.7 L1252 513.1 L1252.8 513.8 L1253.6 514.3 L1254.4 514.1 L1255.2 513 L1256 511.5 L1256.8 510.4 L1257.7 509.9 L1258.5 509.7 L1259.3 509 L1260.1 507.8 L1260.9 506.6 L1261.7 506.1 L1262.5 506.6 L1263.3 507.6 L1264.1 508.5 L1264.9 508.6 L1265.8 508.1 L1266.6 507.1 L1267.4 505.9 L1268.2 504.5 L1269 503.4 L1269.8 502.9 L1270.6 503.2 L1271.4 504.4 L1272.2 506.4 L1273 508.1 L1273.9 509.2 L1274.7 509.6 L1275.5 510 L1276.3 510.3 L1277.1 510.5 L1277.9 510.4 L1278.7 510.3 L1279.5 510.4 L1280.3 510.9 L1281.1 511.6 L1282 512.3 L1282.8 512.2 L1283.6 511.2 L1284.4 509.7 L1285.2 508.4 L1286 507.8 L1286.8 507.8 L1287.6 507.9 L1288.4 508.1 L1289.2 508.6 L1290.1 509.2 L1290.9 509.8 L1291.7 510.1 L1292.5 509.6 L1293.3 508.5 L1294.1 507.2 L1294.9 506 L1295.7 505.3" fill="none" stroke="#cccc00" stroke-width="2.3" stroke-linejoin="round"/>
<path d="M326.4 713.6 L328.1 724.3 L329.7 743.9 L331.3 755.4 L332.9 759 L334.5 760.2 L336.2 765.6 L337.8 771.1 L339.4 762.3 L341 746.4 L342.6 736.5 L344.3 743 L345.9 762 L347.5 772 L349.1 767.1 L350.7 750 L352.4 734.6 L354 728.3 L355.6 731.6 L357.2 741.9 L358.8 750.2 L360.5 754.1 L362.1 757.9 L363.7 758.6 L365.3 752 L366.9 748.2 L368.6 744.4 L370.2 748 L371.8 759.7 L373.4 771.9 L375 772.5 L376.7 760.2 L378.3 749.9 L379.9 757.1 L381.5 763.1 L383.1 762.4 L384.8 757.8 L386.4 751.9 L388 751.5 L389.6 746.2 L391.2 737.6 L392.9 736 L394.5 737.5 L396.1 746.5 L397.7 752.4 L399.3 755.2 L401 755.1 L402.6 764.5 L404.2 775.1 L405.8 774.5 L407.4 761.2 L409.1 750.9 L410.7 745 L412.3 743.7 L413.9 744.6 L415.5 753.6 L417.2 767.2 L418.8 768.5 L420.4 758.3 L422 743.4 L423.6 733.8 L425.3 737.8 L426.9 746.8 L428.5 760.8 L430.1 772.7 L431.7 775.6 L433.4 772.3 L435 763.9 L436.6 751.4 L438.2 741.5 L439.8 735.6 L441.5 741.3 L443.1 752.7 L444.7 765.4 L446.3 779.7 L447.9 779.6 L449.6 769.3 L451.2 753 L452.8 743.1 L454.4 743.9 L456 749.9 L457.7 755.9 L459.3 762.7 L460.9 767.1 L462.5 764.8 L464.1 752.6 L465.8 734.2 L467.4 722.3 L469 722.8 L470.6 728 L472.2 735 L473.9 743.7 L475.5 751.8 L477.1 755.9 L478.7 751.8 L480.3 745.9 L482 739.8 L483.6 741.8 L485.2 748.9 L486.8 757.5 L488.4 763.2 L490.1 773 L491.7 777.9 L493.3 776.7 L494.9 773.4 L496.5 765.5 L498.2 753.1 L499.8 741.4 L501.4 728.5 L503 722.4 L504.6 718.5 L506.3 724.5 L507.9 733 L509.5 748.4 L511.1 760.3 L512.7 765.2 L514.4 763.7 L516 752.2 L517.6 742.7 L519.2 744.3 L520.8 760.2 L522.5 772.2 L524.1 769.7 L525.7 762.5 L527.3 765.4 L528.9 768.8 L530.6 765.3 L532.2 747.4 L533.8 730 L535.4 718.6 L537 723 L538.7 739.7 L540.3 753 L541.9 755.3 L543.5 751.8 L545.1 744.4 L546.8 739.2 L548.4 743.8 L550 756.4 L551.6 773.9 L553.2 785.8 L554.9 790.4 L556.5 778.4 L558.1 756.6 L559.7 736.7 L561.3 725.3 L563 726.9 L564.6 739.8 L566.2 755.7 L567.8 766.4 L569.4 768.8 L571.1 755.7 L572.7 740.8 L574.3 745.6 L575.9 748.2 L577.5 755.1 L579.2 756.5 L580.8 760.7 L582.4 773.9 L584 780.2 L585.6 777.7 L587.3 771.4 L588.9 759.2 L590.5 751.6 L592.1 751.2 L593.7 755.5 L595.4 767.1 L597 769 L598.6 765 L600.2 754.6 L601.8 746.1 L603.5 734.8 L605.1 726.4 L606.7 724.7 L608.3 731.1 L609.9 742.3 L611.6 754.2 L613.2 763.2 L614.8 766.7 L616.4 759 L618 754.7 L619.7 751.8 L621.3 752.9 L622.9 754.4 L624.5 761 L626.1 763 L627.8 760.8 L629.4 752 L631 737.9 L632.6 727.7 L634.2 727.4 L635.9 733 L637.5 744.9 L639.1 757.7 L640.7 769.4 L642.3 770.4 L644 765.5 L645.6 748.4 L647.2 737.7 L648.8 737.3 L650.4 747.3 L652.1 763.3 L653.7 775.9 L655.3 783.9 L656.9 780.9 L658.5 764.7 L660.2 743.1 L661.8 726.8 L663.4 721.6 L665 731.5 L666.6 745.4 L668.3 761.3 L669.9 768.5 L671.5 765.2 L673.1 750.3 L674.7 735.9 L676.4 736.6 L678 743.5 L679.6 754.8 L681.2 758.4 L682.8 757 L684.5 756.3 L686.1 752.9 L687.7 750.5 L689.3 747.3 L690.9 747.5 L692.6 750.2 L694.2 759.1 L695.8 756.3 L697.4 747.7 L699 735.3 L700.7 734.6 L702.3 740.7 L703.9 743.7 L705.5 746.9 L707.1 743.5 L708.8 743.1 L710.4 742.1 L712 739.4 L713.6 739 L715.2 741.7 L716.9 755.6 L718.5 763.9 L720.1 764.9 L721.7 752.5 L723.3 732.2 L725 723.7 L726.6 726.8 L728.2 739.5 L729.8 755.8 L731.4 769.5 L733.1 774.8 L734.7 768.5 L736.3 753.9 L737.9 735.9 L739.5 726.2 L741.2 726 L742.8 738.2 L744.4 754.9 L746 773 L747.6 780.4 L749.3 773.3 L750.9 755.4 L752.5 739.8 L754.1 731.7 L755.7 738.8 L757.4 755.6 L759 769.1 L760.6 768.9 L762.2 753.7 L763.8 728.1 L765.5 717.1 L767.1 719.7 L768.7 740 L770.3 764.8 L771.9 784 L773.6 785.1 L775.2 774.8 L776.8 757.1 L778.4 735.6 L780 717.5 L781.7 710 L783.3 718.1 L784.9 746 L786.5 774 L788.1 794 L789.8 790.2 L791.4 771.9 L793 748.5 L794.6 730.2 L796.2 730.6 L797.9 746.8 L799.5 769.6 L801.1 779.3 L802.7 777.9 L804.3 755.1 L806 730.2 L807.6 709.8 L809.2 705.7 L810.8 710.4 L812.4 726.7 L814.1 746.2 L815.7 766.5 L817.3 779.2 L818.9 779.8 L820.5 762.9 L822.2 738.8 L823.8 725.9 L825.4 727.5 L827 737.4 L828.6 751.2 L830.3 760.5 L831.9 764.1 L833.5 755 L835.1 740.3 L836.7 728.9 L838.4 728.7 L840 738.2 L841.6 752.2 L843.2 766.2 L844.8 774 L846.5 773.5 L848.1 755.3 L849.7 738.8 L851.3 732 L852.9 740.9 L854.6 760 L856.2 770.9 L857.8 769.9 L859.4 764.4 L861 751.4 L862.7 738.1 L864.3 729.5 L865.9 725 L867.5 727 L869.1 739.6 L870.8 753.6 L872.4 763.3 L874 764.4 L875.6 759.2 L877.2 750.8 L878.9 749.3 L880.5 752.9 L882.1 755.7 L883.7 761.3 L885.3 766 L887 768.3 L888.6 766.2 L890.2 750.1 L891.8 734.4 L893.4 725.3 L895.1 732.7 L896.7 745.9 L898.3 756.3 L899.9 762.1 L901.5 762.6 L903.2 760 L904.8 759.2 L906.4 758.5 L908 756.3 L909.6 751 L911.3 747.4 L912.9 743.2 L914.5 741.3 L916.1 749.8 L917.7 758.4 L919.4 768.4 L921 774.5 L922.6 773.4 L924.2 751 L925.8 734.7 L927.5 739.3 L929.1 756.2 L930.7 772.8 L932.3 774.7 L933.9 767.5 L935.6 756.6 L937.2 746.1 L938.8 736.2 L940.4 729 L942 729.4 L943.7 736.8 L945.3 749.5 L946.9 762.8 L948.5 767 L950.1 765.1 L951.8 754.1 L953.4 749.8 L955 752.6 L956.6 760.8 L958.2 763.8 L959.9 761.7 L961.5 758.7 L963.1 756.5 L964.7 752.3 L966.3 748 L968 744.2 L969.6 744.2 L971.2 747.5 L972.8 753.6 L974.4 757.1 L976.1 758 L977.7 754 L979.3 754.1 L980.9 764.3 L982.5 774.4 L984.2 774.8 L985.8 763.7 L987.4 752 L989 749.2 L990.6 748.6 L992.3 748.4 L993.9 737.3 L995.5 726.1 L997.1 725.4 L998.7 740.7 L1000.4 757.7 L1002 768.2 L1003.6 766.2 L1005.2 760.6 L1006.8 759.9 L1008.5 761.4 L1010.1 757.8 L1011.7 739.5 L1013.3 724.7 L1014.9 727.8 L1016.6 743.1 L1018.2 757 L1019.8 756.3 L1021.4 750.6 L1023 743.3 L1024.7 744.8 L1026.3 747 L1027.9 750 L1029.5 752.3 L1031.1 747.9 L1032.8 745.9 L1034.4 740.6 L1036 739.9 L1037.6 739.8 L1039.2 741.9 L1040.9 754.3 L1042.5 765.1 L1044.1 775.4 L1045.7 774.7 L1047.3 764.2 L1049 745.5 L1050.6 730.9 L1052.2 723.8 L1053.8 729.9 L1055.4 738 L1057.1 750.6 L1058.7 758.3 L1060.3 763.8 L1061.9 757.9 L1063.5 746.9 L1065.2 742.4 L1066.8 747.7 L1068.4 752.6 L1070 761.2 L1071.6 765.6 L1073.3 764.8 L1074.9 761.6 L1076.5 753.7 L1078.1 748.5 L1079.7 741.8 L1081.4 737.6 L1083 738.9 L1084.6 738.6 L1086.2 741.2 L1087.8 741.2 L1089.5 742.2 L1091.1 751.7 L1092.7 766.4 L1094.3 763.6 L1095.9 755.3 L1097.6 747.5 L1099.2 753 L1100.8 761.2 L1102.4 762.5 L1104 757.5 L1105.7 751.5 L1107.3 742.5 L1108.9 733.8 L1110.5 730 L1112.1 729.3 L1113.8 739.4 L1115.4 751.4 L1117 762 L1118.6 762.5 L1120.2 756.1 L1121.9 748.3 L1123.5 743 L1125.1 742.2 L1126.7 747 L1128.3 753.2 L1130 757 L1131.6 761.2 L1133.2 764.1 L1134.8 761.7 L1136.4 754.3 L1138.1 744 L1139.7 732.9 L1141.3 728.8 L1142.9 730.7 L1144.5 743.2 L1146.2 755.4 L1147.8 768.3 L1149.4 773.9 L1151 773.5 L1152.6 763.8 L1154.3 753.4 L1155.9 748.3 L1157.5 750.1 L1159.1 753.1 L1160.7 753.5 L1162.4 740.3 L1164 735.8 L1165.6 738.3 L1167.2 752.8 L1168.8 758.2 L1170.5 757.6 L1172.1 743.4 L1173.7 734.6 L1175.3 736.3 L1176.9 741.1 L1178.6 748.4 L1180.2 755.2 L1181.8 759.4 L1183.4 754.1 L1185 748.4 L1186.7 747.7 L1188.3 749 L1189.9 756.5 L1191.5 759 L1193.1 760.6 L1194.8 756.5 L1196.4 748.4 L1198 735.8 L1199.6 726.4 L1201.2 724.3 L1202.9 729 L1204.5 740.2 L1206.1 752.1 L1207.7 763.9 L1209.3 770.7 L1211 772.7 L1212.6 774.4 L1214.2 770.2 L1215.8 761 L1217.4 748.7 L1219.1 741.3 L1220.7 741.4 L1222.3 745.2 L1223.9 753.9 L1225.5 760.7 L1227.2 765.9 L1228.8 762.1 L1230.4 750.5 L1232 736.5 L1233.6 731.3 L1235.3 737 L1236.9 747.1 L1238.5 764 L1240.1 777.5 L1241.7 784.2 L1243.4 785.3 L1245 777.2 L1246.6 763.5 L1248.2 749.4 L1249.8 739.4 L1251.5 736.3 L1253.1 743.2 L1254.7 753.6 L1256.3 763 L1257.9 761.3 L1259.6 752.5 L1261.2 742.4 L1262.8 731.4 L1264.4 726.6 L1266 729.2 L1267.7 745.1 L1269.3 764.5 L1270.9 775.8 L1272.5 775.2 L1274.1 768.1 L1275.8 759.6 L1277.4 752.5 L1279 751.4 L1280.6 761.1 L1282.2 769.6 L1283.9 769.1 L1285.5 759 L1287.1 752.6 L1288.7 750.4 L1290.3 752.7 L1292 754.4 L1293.6 749.3 L1295.2 750.8" fill="none" stroke="#bebebe" stroke-width="2.1" stroke-linejoin="round"/>
<path d="M332 246.6 L332.5 246.6 L333 246.8 L333.5 246.2 L334 247 L334.5 246.6 L335 246.6 L335.5 246.6 L336 246.4 L336.5 246.5 L337 246.1 L337.5 246.1 L338 245.6 L338.5 245.4 L339 246.2 L339.5 246 L340 246 L340.5 245.9 L341 245.8 L341.5 246.3 L342 246 L342.5 245.6 L343 246.3 L343.5 246.7 L344 245.8 L344.5 246.2 L345 246.1 L345.5 245.8 L346 246.2 L346.5 245.6 L347 246.2 L347.5 245.1 L348 245.8 L348.5 246 L349 245.6 L349.5 245.7 L350 245.2 L350.5 246.1 L351 246 L351.5 246.2 L352 246.2 L352.5 245.5 L353 246.1 L353.5 245.8 L354 245.4 L354.5 246.7 L355 246.6 L355.5 245.4 L356 247.1 L356.5 247.1 L357 246.2 L357.5 246.3 L358 247.9 L358.5 246.5 L359 247.1 L359.5 246.7 L360 247.5 L360.5 247.7 L361 247.1 L361.5 247.8 L362 246.9 L362.5 246.8 L363 247.3 L363.5 247.8 L364 247.2 L364.5 247.1 L365 247.2 L365.5 247.5 L366 247.2 L366.5 246.7 L367 247.5 L367.5 246.6 L368 247.2 L368.5 246.9 L369 246.7 L369.5 247.2 L370 246.9 L370.5 246.9 L371 247.5 L371.5 247.1 L372 247.4 L372.5 248.1 L373 247.4 L373.5 248.1 L374 247.9 L374.5 247.6 L375 247.9 L375.5 247.6 L376 247.6 L376.5 247.9 L377 247.1 L377.5 247.3 L378 247.8 L378.5 247.3 L379 248.2 L379.5 246.2 L380 247.3 L380.5 246.8 L381 247 L381.5 248 L382 247.6 L382.5 247.5 L383 247.6 L383.5 247.3 L384 247.6 L384.5 247.9 L385 247.4 L385.5 247.8 L386 247.5 L386.5 247.1 L387 248 L387.5 247.8 L388 247.9 L388.5 248.3 L389 248.4 L389.5 247.4 L390 248.9 L390.5 247.8 L391 248.7 L391.5 248.4 L392 248.3 L392.5 249.7 L393 248.6 L393.5 248.8 L394 247.7 L394.5 248.1 L395 248.5 L395.5 248.3 L396 248.1 L396.5 249 L397 248.9 L397.5 248.8 L398 248.2 L398.5 248.5 L399 248.8 L399.5 249 L400 248.8 L400.5 248.5 L401 248.3 L401.5 248.9 L402 248.3 L402.5 248 L403 248.6 L403.5 248.3 L404 248.5 L404.5 249.1 L405 248.7 L405.5 248.8 L406 248.5 L406.5 249.3 L407 248.6 L407.5 249.1 L408 249.5 L408.5 249.5 L409 249.4 L409.5 249.5 L410 249.4 L410.5 249 L411 249.3 L411.5 248.9 L412 252 L412.5 249.6 L413 249 L413.5 249.7 L414 249.5 L414.5 249.1 L415 249.6 L415.5 249.1 L416 249.4 L416.5 249.1 L417 248.7 L417.5 248.4 L418 249.1 L418.5 248.8 L419 248.9 L419.5 248.8 L420 249.1 L420.5 248.8 L421 248.6 L421.5 248.8 L422 248.8 L422.5 248.7 L423 248.7 L423.5 249 L424 249.3 L424.5 249.3 L425 248.9 L425.5 249.1 L426 248.9 L426.5 249.7 L427 249.5 L427.5 249.9 L428 249.5 L428.5 249.6 L429 249.7 L429.5 249.4 L430 249.5 L430.5 249.7 L431 249.7 L431.5 249.7 L432 249.6 L432.5 249.3 L433 249.9 L433.5 249.3 L434 249.7 L434.5 249.5 L435 249.9 L435.5 249.9 L436 250.1 L436.5 250.4 L437 249.5 L437.5 250.3 L438 249.7 L438.5 250 L439 249.9 L439.5 249.7 L440 250.4 L440.5 249.6 L441 249.3 L441.5 250 L442 249.8 L442.5 249.6 L443 250.4 L443.5 249.6 L444 249.7 L444.5 249.4 L445 250 L445.5 250.3 L446 250.3 L446.5 251 L447 250 L447.5 250.6 L448 250.4 L448.5 250.4 L449 250.4 L449.5 250.6 L450 250.3 L450.5 250.6 L451 250.4 L451.5 250.6 L452 250 L452.5 250.3 L453 250.3 L453.5 249.7 L454 250.4 L454.5 249.9 L455 249.9 L455.5 248.9 L456 249.5 L456.5 250.4 L457 249.3 L457.5 249.6 L458 249.6 L458.5 250.2 L459 249.7 L459.5 251.8 L460 249.9 L460.5 250 L461 249.9 L461.5 250.2 L462 250.1 L462.5 249.8 L463 249.9 L463.5 250.2 L464 249.9 L464.5 250.3 L465 250.4 L465.5 250.6 L466 250.5 L466.5 250.4 L467 250.3 L467.5 249.7 L468 250.5 L468.5 249.4 L469 250 L469.5 250.2 L470 251.3 L470.5 249.9 L471 250 L471.5 250.1 L472 250.8 L472.5 250.3 L473 251.1 L473.5 250.8 L474 250.6 L474.5 250.7 L475 251.1 L475.5 250.2 L476 250.8 L476.5 250.7 L477 251.1 L477.5 251.2 L478 251.4 L478.5 251.1 L479 251 L479.5 251.2 L480 251.3 L480.5 251.3 L481 251.2 L481.5 252 L482 251.6 L482.5 251.2 L483 251.6 L483.5 252.6 L484 251.9 L484.5 252.6 L485 252.3 L485.5 251.9 L486 252.2 L486.5 252.6 L487 252.3 L487.5 252.6 L488 252.6 L488.5 252.2 L489 252.1 L489.5 252.2 L490 252.5 L490.5 252.8 L491 252.9 L491.5 252 L492 253 L492.5 252.9 L493 252.7 L493.5 253.2 L494 252.9 L494.5 253.3 L495 252.8 L495.5 252.8 L496 253.3 L496.5 252.2 L497 252.4 L497.5 253 L498 252.8 L498.5 252 L499 252.6 L499.5 252.7 L500 252.7 L500.5 255 L501 253.2 L501.5 252.2 L502 252.4 L502.5 252.2 L503 252.6 L503.5 254 L504 253 L504.5 253 L505 253.3 L505.5 253 L506 253.6 L506.5 253 L507 253.6 L507.5 253.5 L508 254 L508.5 254.1 L509 253.5 L509.5 253.4 L510 254.4 L510.5 252.8 L511 254.1 L511.5 253.8 L512 253.9 L512.5 252.5 L513 252.3 L513.5 252.9 L514 252.7 L514.5 253.2 L515 255.4 L515.5 252.6 L516 252.1 L516.5 252.8 L517 252.8 L517.5 252.7 L518 252.8 L518.5 252.5 L519 252.5 L519.5 252.7 L520 252.1 L520.5 254.7 L521 252 L521.5 252.8 L522 252.1 L522.5 251.5 L523 252.6 L523.5 252 L524 251.9 L524.5 251.9 L525 251.8 L525.5 252 L526 252.3 L526.5 252 L527 251.6 L527.5 252.5 L528 251.9 L528.5 251.6 L529 251.3 L529.5 252.2 L530 251.3 L530.5 251.8 L531 251.4 L531.5 251.3 L532 251.2 L532.5 251.8 L533 252.1 L533.5 251.9 L534 251.9 L534.5 251.4 L535 251.8 L535.5 251.7 L536 251.7 L536.5 250.9 L537 250.8 L537.5 251.5 L538 250.7 L538.5 251.1 L539 251.4 L539.5 251.5 L540 251.6 L540.5 251.6 L541 251.4 L541.5 251.5 L542 251.9 L542.5 251.1 L543 251.1 L543.5 251.6 L544 252.3 L544.5 252.4 L545 252.4 L545.5 252.1 L546 252.1 L546.5 251.5 L547 252.2 L547.5 252 L548 252 L548.5 252.3 L549 252.6 L549.5 252.3 L550 252.4 L550.5 252.1 L551 252.3 L551.5 251.9 L552 252.1 L552.5 252.1 L553 253.1 L553.5 251.5 L554 252.2 L554.5 252.2 L555 252.4 L555.5 252.7 L556 253 L556.5 252.5 L557 252.6 L557.5 253.2 L558 253.2 L558.5 253.7 L559 253.2 L559.5 252.9 L560 252.4 L560.5 252.9 L561 252.6 L561.5 252.5 L562 252.8 L562.5 252.6 L563 252.5 L563.5 252.7 L564 253.3 L564.5 253.2 L565 253.9 L565.5 253.3 L566 254.2 L566.5 253.2 L567 253.5 L567.5 253.4 L568 253.5 L568.5 253.4 L569 254.2 L569.5 253.7 L570 253.7 L570.5 253.4 L571 253.9 L571.5 253.9 L572 253.7 L572.5 253.7 L573 254.1 L573.5 253.7 L574 253.4 L574.5 253.7 L575 254 L575.5 253.5 L576 253.3 L576.5 253.7 L577 253.4 L577.5 253.7 L578 254.1 L578.5 253.9 L579 253.2 L579.5 253.8 L580 253.5 L580.5 254 L581 254 L581.5 254.2 L582 254 L582.5 253.8 L583 253.9 L583.5 253.2 L584 253.3 L584.5 254.3 L585 253.9 L585.5 252.9 L586 253.2 L586.5 252.9 L587 253.9 L587.5 253.8 L588 253.3 L588.5 253.8 L589 253.3 L589.5 253.7 L590 253.3 L590.5 253.1 L591 253.5 L591.5 253.2 L592 253.4 L592.5 253.2 L593 253.7 L593.5 253.8 L594 253.9 L594.5 253.7 L595 253.6 L595.5 254 L596 254.1 L596.5 253.3 L597 253.7 L597.5 253.3 L598 253.2 L598.5 253.8 L599 253.1 L599.5 253.4 L600 253.4 L600.5 253.3 L601 253.4 L601.5 253.2 L602 253.2 L602.5 253 L603 252.9 L603.5 253.2 L604 253.4 L604.5 253.3 L605 253.5 L605.5 253.5 L606 253.7 L606.5 253.7 L607 254.4 L607.5 254.1 L608 256.2 L608.5 254 L609 254.3 L609.5 254.2 L610 253.9 L610.5 254.1 L611 254 L611.5 254.7 L612 253.6 L612.5 255.5 L613 253.8 L613.5 254.7 L614 254.3 L614.5 254.7 L615 254.6 L615.5 254 L616 255 L616.5 254.7 L617 254.3 L617.5 254.5 L618 254.8 L618.5 255.1 L619 255.1 L619.5 254.9 L620 254.1 L620.5 254.4 L621 255.2 L621.5 254.6 L622 255 L622.5 255.1 L623 255.4 L623.5 255 L624 255.2 L624.5 255.4 L625 255.5 L625.5 255.5 L626 255.5 L626.5 256.1 L627 255.3 L627.5 256 L628 255.7 L628.5 255.7 L629 255.5 L629.5 255.9 L630 256 L630.5 255.9 L631 255.8 L631.5 255.9 L632 255 L632.5 255.2 L633 255.5 L633.5 255.8 L634 255.4 L634.5 255.8 L635 255.8 L635.5 255.7 L636 255.7 L636.5 255 L637 255.4 L637.5 255.7 L638 256.2 L638.5 256 L639 257.6 L639.5 256.6 L640 256.6 L640.5 256.6 L641 256.6 L641.5 257.4 L642 257.1 L642.5 256.5 L643 257.2 L643.5 256.8 L644 257.5 L644.5 257.9 L645 257.5 L645.5 257.3 L646 257 L646.5 256.9 L647 257.5 L647.5 257.2 L648 257.6 L648.5 257.4 L649 257.5 L649.5 256.2 L650 257.6 L650.5 257.6 L651 258 L651.5 257.8 L652 257.9 L652.5 258 L653 258.7 L653.5 258.4 L654 258.4 L654.5 259.1 L655 258.2 L655.5 258.2 L656 258.4 L656.5 257.1 L657 258.7 L657.5 258.1 L658 258.6 L658.5 258.5 L659 258.5 L659.5 258 L660 258.5 L660.5 259.1 L661 259.2 L661.5 258.6 L662 258.3 L662.5 258.9 L663 259.4 L663.5 258.6 L664 259.4 L664.5 259 L665 259.3 L665.5 259.1 L666 258.9 L666.5 259.1 L667 259.3 L667.5 258.5 L668 259.8 L668.5 259.3 L669 259.2 L669.5 259.6 L670 259.3 L670.5 259.2 L671 259.4 L671.5 259.6 L672 258.7 L672.5 259.4 L673 259 L673.5 259.3 L674 259 L674.5 259.8 L675 259.6 L675.5 260.1 L676 259.7 L676.5 259.5 L677 260 L677.5 259.7 L678 259.9 L678.5 260.5 L679 260.7 L679.5 259.9 L680 260.5 L680.5 260.1 L681 261.2 L681.5 260.6 L682 260.3 L682.5 261.6 L683 261.4 L683.5 260.3 L684 260.9 L684.5 260.7 L685 260.7 L685.5 260.6 L686 261.7 L686.5 261.2 L687 261.7 L687.5 261.3 L688 261 L688.5 261.2 L689 261.7 L689.5 261.8 L690 261.3 L690.5 261.5 L691 261.7 L691.5 261.8 L692 261.6 L692.5 262.4 L693 262.8 L693.5 262.3 L694 261 L694.5 262.5 L695 261.6 L695.5 261.7 L696 261.9 L696.5 261.6 L697 261.7 L697.5 262.3 L698 262.5 L698.5 262.3 L699 262 L699.5 261.4 L700 261.6 L700.5 261.6 L701 262.5 L701.5 262.1 L702 261.1 L702.5 261.9 L703 262 L703.5 262.1 L704 262.1 L704.5 262.2 L705 262.4 L705.5 263.3 L706 262.2 L706.5 263 L707 262.3 L707.5 263.6 L708 263.3 L708.5 262.7 L709 262.5 L709.5 262.5 L710 262.7 L710.5 262.2 L711 263.2 L711.5 262.3 L712 262.9 L712.5 263.2 L713 262.2 L713.5 262.5 L714 262.5 L714.5 263.2 L715 263.1 L715.5 262.9 L716 263.1 L716.5 262.6 L717 262.9 L717.5 263 L718 263.6 L718.5 262.7 L719 263 L719.5 263.3 L720 263.4 L720.5 263.2 L721 263.4 L721.5 263.3 L722 263.4 L722.5 263.2 L723 263.4 L723.5 263.4 L724 263.4 L724.5 263.8 L725 263.6 L725.5 263.5 L726 263.5 L726.5 263.6 L727 263.8 L727.5 263.8 L728 263.6 L728.5 263.1 L729 263.1 L729.5 263.6 L730 263.4 L730.5 263.8 L731 264.2 L731.5 263.9 L732 263.7 L732.5 263.2 L733 263.7 L733.5 263 L734 263.5 L734.5 263.5 L735 263.7 L735.5 264.1 L736 263.2 L736.5 264 L737 263.5 L737.5 262.9 L738 263.2 L738.5 263.3 L739 262.8 L739.5 263.2 L740 263.3 L740.5 266.4 L741 262.9 L741.5 263.5 L742 263 L742.5 263.3 L743 263.9 L743.5 263.4 L744 263.6 L744.5 263.6 L745 263.1 L745.5 263.7 L746 263.7 L746.5 263.4 L747 264 L747.5 264.2 L748 263.9 L748.5 263.7 L749 263.1 L749.5 263.2 L750 263.7 L750.5 263.8 L751 264.1 L751.5 264.1 L752 264.1 L752.5 266.1 L753 264 L753.5 263.9 L754 263.8 L754.5 263.9 L755 264 L755.5 264.3 L756 263.8 L756.5 263.7 L757 263.4 L757.5 263.9 L758 263.3 L758.5 262.8 L759 263.9 L759.5 264.1 L760 263.4 L760.5 263.4 L761 263.3 L761.5 263.5 L762 262.7 L762.5 262.5 L763 262.9 L763.5 263.5 L764 263.2 L764.5 262.7 L765 265.8 L765.5 262.7 L766 262.5 L766.5 262.4 L767 262.8 L767.5 262.8 L768 262.9 L768.5 262.9 M786.4 263 L786.9 263.5 L787.4 262.9 L787.9 262.6 L788.4 263.1 L788.9 262.4 L789.4 262.7 L789.9 262.9 L790.4 263.1 L790.9 263.2 L791.4 263.1 L791.9 263.1 L792.4 262.9 L792.9 263.3 L793.4 264.4 L793.9 263.4 L794.4 263.4 L794.9 264.2 L795.4 264.3 L795.9 263.2 L796.4 263.9 L796.9 263.7 L797.4 264.1 L797.9 264.6 L798.4 264.3 L798.9 264.7 L799.4 264.1 L799.9 265 L800.4 265.2 L800.9 264.7 L801.4 263.7 L801.9 264.2 L802.4 264.4 L802.9 264.8 L803.4 264.8 L803.9 264.5 L804.4 265.1 L804.9 264.7 L805.4 264.3 L805.9 264.2 L806.4 266 L806.9 265.2 L807.4 264.6 L807.9 264.6 L808.4 264.8 L808.9 265.6 L809.4 264.9 L809.9 264.6 L810.4 264.5 L810.9 264.8 L811.4 264.8 L811.9 264.1 L812.4 264.2 L812.9 264.4 L813.4 264.4 L813.9 264.4 L814.4 264.4 L814.9 265.1 L815.4 264.4 L815.9 265 L816.4 264.7 L816.9 265.6 L817.4 264.9 L817.9 265 L818.4 265.5 L818.9 264.8 L819.4 265.9 L819.9 265 L820.4 265 L820.9 264.7 L821.4 265.2 L821.9 264.9 L822.4 265.1 L822.9 265.1 L823.4 265.4 L823.9 265.4 L824.4 266 L824.9 265.3 L825.4 265.9 L825.9 266.4 L826.4 266.4 L826.9 266.6 L827.4 266 L827.9 266.9 L828.4 266.4 L828.9 266.7 L829.4 266.5 L829.9 267.2 L830.4 267.3 L830.9 266.6 L831.4 266.6 L831.9 267.7 L832.4 267.5 L832.9 268 L833.4 268 L833.9 268 L834.4 268 L834.9 267.7 L835.4 268 L835.9 268.4 L836.4 268.4 L836.9 268.6 L837.4 268.1 L837.9 268.2 L838.4 268.4 L838.9 267.5 L839.4 268.7 L839.9 268.3 L840.4 268.5 L840.9 268.6 L841.4 268.3 L841.9 268.9 L842.4 268.5 L842.9 267.9 L843.4 269.1 L843.9 269.7 L844.4 269.1 L844.9 269.1 L845.4 268.8 L845.9 269.5 L846.4 269.3 L846.9 268.5 L847.4 268.6 L847.9 268.3 L848.4 268.7 L848.9 268.1 L849.4 268.5 L849.9 268.8 L850.4 268.2 L850.9 271 L851.4 269.3 L851.9 269.4 L852.4 268.8 L852.9 269.1 L853.4 269.2 L853.9 269.2 L854.4 269.3 L854.9 269.1 L855.4 269.9 L855.9 269.5 L856.4 269.2 L856.9 269.6 L857.4 270.2 L857.9 269.7 L858.4 270.3 L858.9 269.2 L859.4 269.3 L859.9 269.1 L860.4 269.1 L860.9 269.9 L861.4 269.6 L861.9 269.6 L862.4 270 L862.9 269.6 L863.4 269.3 L863.9 269.8 L864.4 269.7 L864.9 269.5 L865.4 270.6 L865.9 270.1 L866.4 270.1 L866.9 270.4 L867.4 269.8 L867.9 269.9 L868.4 269.4 L868.9 268.8 L869.4 269.5 L869.9 269.7 L870.4 269 L870.9 269 L871.4 268.6 L871.9 268.8 L872.4 269.8 L872.9 269.2 L873.4 269.2 L873.9 269.6 L874.4 269.5 L874.9 269.5 L875.4 269.6 L875.9 270.3 L876.4 270.1 L876.9 270.2 L877.4 270.7 L877.9 271.1 L878.4 270.3 L878.9 270 L879.4 270.1 L879.9 270.8 L880.4 270.1 L880.9 270.5 L881.4 270.8 L881.9 270.2 L882.4 270.1 L882.9 270.2 L883.4 270.6 L883.9 269.7 L884.4 269.8 L884.9 269.5 L885.4 269.5 L885.9 269.2 L886.4 270 L886.9 269.7 L887.4 269.6 L887.9 269.8 L888.4 269.7 L888.9 270 L889.4 269.5 L889.9 271.8 L890.4 269.8 L890.9 270.1 L891.4 269.6 L891.9 270.4 L892.4 270 L892.9 270.2 L893.4 270.7 L893.9 270.1 L894.4 270.4 L894.9 270.5 L895.4 269.3 L895.9 269.6 L896.4 270 L896.9 269.4 L897.4 270.2 L897.9 270.1 L898.4 269.9 L898.9 269.4 L899.4 269.3 L899.9 269.7 L900.4 268.8 L900.9 267.7 L901.4 269.6 L901.9 269.4 L902.4 268.9 L902.9 269.6 L903.4 269.8 L903.9 269.4 L904.4 269.1 L904.9 269.4 L905.4 269.8 L905.9 269.8 L906.4 270.2 L906.9 269.7 L907.4 269.7 L907.9 270 L908.4 269.2 L908.9 269.3 L909.4 269.9 L909.9 269 L910.4 268.6 L910.9 268.9 L911.4 269.1 L911.9 269 L912.4 269.3 L912.9 269.2 L913.4 268.9 L913.9 269.6 L914.4 269 L914.9 269.7 L915.4 269 L915.9 269.3 L916.4 269.8 L916.9 269.2 L917.4 269.6 L917.9 269.8 L918.4 268.9 L918.9 269 L919.4 269.3 L919.9 268.8 L920.4 269.3 L920.9 269.4 L921.4 269.2 L921.9 269.1 L922.4 269.3 L922.9 269.2 L923.4 269.3 L923.9 269.1 L924.4 269.9 L924.9 269.9 L925.4 269.8 L925.9 269.5 L926.4 269.8 L926.9 269.7 L927.4 269.5 L927.9 270.1 L928.4 270.3 L928.9 268.9 L929.4 270 L929.9 269.9 L930.4 270 L930.9 269.7 L931.4 270.1 L931.9 269.9 L932.4 269.5 L932.9 269.9 L933.4 270.7 L933.9 270 L934.4 269.8 L934.9 269.5 L935.4 270.3 L935.9 270.1 L936.4 269.8 L936.9 270.4 L937.4 269.9 L937.9 270.1 L938.4 269.7 L938.9 270.4 L939.4 269 L939.9 270.1 L940.4 269.5 L940.9 269.2 L941.4 269.7 L941.9 269.1 L942.4 269.2 L942.9 269.6 L943.4 269.7 L943.9 270 L944.4 269.3 L944.9 269.5 L945.4 268.5 L945.9 269.5 L946.4 269 L946.9 269.5 L947.4 269.6 L947.9 269.9 L948.4 270 L948.9 270.2 L949.4 269.7 L949.9 269.4 L950.4 270.7 L950.9 270.1 L951.4 270.5 L951.9 270 L952.4 270.1 L952.9 270.1 L953.4 270.1 L953.9 270.3 L954.4 270 L954.9 269.9 L955.4 270.5 L955.9 269.9 L956.4 270.2 L956.9 270.3 L957.4 269.9 L957.9 270.5 L958.4 269.9 L958.9 269.5 L959.4 269.4 L959.9 269.8 L960.4 269.4 L960.9 269.6 L961.4 269.5 L961.9 270.2 L962.4 269.8 L962.9 269.7 L963.4 269.6 L963.9 269.4 L964.4 269.5 L964.9 269.7 L965.4 270.2 L965.9 269.9 L966.4 269.6 L966.9 269.8 L967.4 270 L967.9 269.3 L968.4 269.7 L968.9 269.4 L969.4 269.3 L969.9 269.8 L970.4 269.7 L970.9 269.7 L971.4 269.1 L971.9 269.5 L972.4 269.7 L972.9 269.2 L973.4 269.5 L973.9 270.9 L974.4 270 L974.9 269.4 L975.4 269.4 L975.9 269.8 L976.4 269.5 L976.9 270 L977.4 270.1 L977.9 270 L978.4 270 L978.9 269.6 L979.4 270 L979.9 269.7 L980.4 269.8 L980.9 269.1 L981.4 269.3 L981.9 268.4 L982.4 268.5 L982.9 269.8 L983.4 269.3 L983.9 268.6 L984.4 268.8 L984.9 268.7 L985.4 269.7 L985.9 269 L986.4 268.7 L986.9 269.2 L987.4 269.1 L987.9 269.4 L988.4 269 L988.9 269.1 L989.4 268.9 L989.9 269 L990.4 268.6 L990.9 268.6 L991.4 269 L991.9 269.2 L992.4 269.8 L992.9 269.1 L993.4 269.1 L993.9 269.3 L994.4 268.5 L994.9 268.7 L995.4 269.4 L995.9 268.8 L996.4 268.9 L996.9 268.6 L997.4 268.8 L997.9 269.4 L998.4 268.4 L998.9 268.8 L999.4 268.5 L999.9 270 L1000.4 268.9 L1000.9 269.4 L1001.4 269.3 L1001.9 268.8 L1002.4 269.4 L1002.9 269.6 L1003.4 269.4 L1003.9 269.4 L1004.4 268.8 L1004.9 272.2 L1005.4 269.5 L1005.9 269.7 L1006.4 269.1 L1006.9 268.8 L1007.4 269.1 L1007.9 269.1 L1008.4 269 L1008.9 268.4 L1009.4 268.9 L1009.9 268.9 L1010.4 268.5 L1010.9 268.9 L1011.4 268.6 L1011.9 268.8 L1012.4 269.3 L1012.9 269.3 L1013.4 269.2 L1013.9 269.1 L1014.4 268.4 L1014.9 268.6 L1015.4 268.9 L1015.9 269.5 L1016.4 268.9 L1016.9 268.5 L1017.4 268.6 L1017.9 268.7 L1018.4 269.2 L1018.9 269.1 L1019.4 268.8 L1019.9 268.6 L1020.4 268.4 L1020.9 268.5 L1021.4 268.5 L1021.9 268.4 L1022.4 268.6 L1022.9 268.7 L1023.4 268.5 L1023.9 269.3 L1024.4 268.5 L1024.9 268.5 L1025.4 268.1 L1025.9 268.7 L1026.4 269.5 L1026.9 268.6 L1027.4 268.9 L1027.9 269.1 L1028.4 272.1 L1028.9 269.2 L1029.4 270.3 L1029.9 268.9 L1030.4 269.2 L1030.9 269 L1031.4 268.5 L1031.9 268.5 L1032.4 268.5 L1032.9 268.1 L1033.4 268.6 L1033.9 269.2 L1034.4 268.8 L1034.9 268.8 L1035.4 268.5 L1035.9 268.4 L1036.4 268.8 L1036.9 269.1 L1037.4 268.8 L1037.9 269.2 L1038.4 269.3 L1038.9 269.8 L1039.4 269.4 L1039.9 269.9 L1040.4 269.6 L1040.9 269 L1041.4 269.4 L1041.9 269.5 L1042.4 269.1 L1042.9 269.3 L1043.4 269.8 L1043.9 268.7 L1044.4 269 L1044.9 269.3 L1045.4 268.9 L1045.9 269 L1046.4 269.7 L1046.9 269.4 L1047.4 269.2 L1047.9 269.5 L1048.4 269.6 L1048.9 269.7 L1049.4 269.9 L1049.9 269.4 L1050.4 270.2 L1050.9 269.4 L1051.4 270 L1051.9 270 L1052.4 269.5 L1052.9 269.6 L1053.4 269.9 L1053.9 270 L1054.4 269.8 L1054.9 269.2 L1055.4 269.7 L1055.9 270.2 L1056.4 269.5 L1056.9 269.6 L1057.4 270.2 L1057.9 269.8 L1058.4 269.9 L1058.9 269.9 L1059.4 269.8 L1059.9 270.1 L1060.4 270.4 L1060.9 269.6 L1061.4 270 L1061.9 269.7 L1062.4 270.2 L1062.9 269.9 L1063.4 270.9 L1063.9 270.2 L1064.4 270.3 L1064.9 270.8 L1065.4 270.3 L1065.9 270.3 L1066.4 270.7 L1066.9 270.5 L1067.4 270.2 L1067.9 270.6 L1068.4 270.8 L1068.9 271.2 L1069.4 270.7 L1069.9 270.4 L1070.4 270.5 L1070.9 271.4 L1071.4 271 L1071.9 271.4 L1072.4 271.9 L1072.9 270.6 L1073.4 270.9 L1073.9 270.4 L1074.4 270.9 L1074.9 270.9 L1075.4 271.6 L1075.9 271 L1076.4 270.9 L1076.9 271.9 L1077.4 270.5 L1077.9 271.6 L1078.4 271.4 L1078.9 271.1 L1079.4 271.1 L1079.9 271.3 L1080.4 271.5 L1080.9 271.6 L1081.4 271.7 L1081.9 271.7 L1082.4 271.6 L1082.9 272 L1083.4 271.8 L1083.9 271.1 L1084.4 271.6 L1084.9 272.3 L1085.4 272 L1085.9 272.5 L1086.4 271.6 L1086.9 271.4 L1087.4 272 L1087.9 271.7 L1088.4 271.8 L1088.9 271.5 L1089.4 271.9 L1089.9 272.3 L1090.4 272 L1090.9 272.1 L1091.4 272 L1091.9 272.4 L1092.4 272.4 L1092.9 271.8 L1093.4 271.6 L1093.9 272 L1094.4 272 L1094.9 272.2 L1095.4 271.7 L1095.9 272.6 L1096.4 272.7 L1096.9 271.8 L1097.4 272.2 L1097.9 272.1 L1098.4 272.2 L1098.9 273 L1099.4 272.5 L1099.9 272.5 L1100.4 272.8 L1100.9 271.8 L1101.4 273.1 L1101.9 273.2 L1102.4 272.6 L1102.9 271.8 L1103.4 272.4 L1103.9 273 L1104.4 272.3 L1104.9 271.8 L1105.4 270.9 L1105.9 271.6 L1106.4 272.2 L1106.9 272.1 L1107.4 272.1 L1107.9 272.8 L1108.4 272.6 L1108.9 273 L1109.4 272.8 L1109.9 272.6 L1110.4 272.8 L1110.9 272.9 L1111.4 272.4 L1111.9 273.2 L1112.4 273.1 L1112.9 273.2 L1113.4 272.7 L1113.9 273 L1114.4 272.5 L1114.9 272.7 L1115.4 272.7 L1115.9 272.6 L1116.4 272.9 L1116.9 273.4 L1117.4 273.6 L1117.9 273 L1118.4 273.7 L1118.9 272.6 L1119.4 273.5 L1119.9 273.3 L1120.4 273.4 L1120.9 273.8 L1121.4 273.9 L1121.9 273.6 L1122.4 273.2 L1122.9 273.1 L1123.4 273.5 L1123.9 273.2 L1124.4 273 L1124.9 273 L1125.4 272.6 L1125.9 273.3 L1126.4 272.8 L1126.9 272.9 L1127.4 273.4 L1127.9 273.6 L1128.4 272.1 L1128.9 272.9 L1129.4 272.3 L1129.9 272.4 L1130.4 272.7 L1130.9 272.9 L1131.4 272.8 L1131.9 272.4 L1132.4 272.6 L1132.9 273.4 L1133.4 272.8 L1133.9 272 L1134.4 272.8 L1134.9 272.1 L1135.4 272.5 L1135.9 273.1 L1136.4 272.6 L1136.9 272.2 L1137.4 274.3 L1137.9 272.5 L1138.4 272.7 L1138.9 273.2 L1139.4 273.3 L1139.9 273.3 L1140.4 272.8 L1140.9 272.6 L1141.4 272.9 L1141.9 273.2 L1142.4 273.3 L1142.9 273.3 L1143.4 273 L1143.9 272.3 L1144.4 272.5 L1144.9 272.9 L1145.4 271.9 L1145.9 272 L1146.4 272.3 L1146.9 272.2 L1147.4 272.2 L1147.9 272.6 L1148.4 272.4 L1148.9 272.3 L1149.4 272.2 L1149.9 272.6 L1150.4 272.8 L1150.9 273 L1151.4 272.5 L1151.9 272.6 L1152.4 272.1 L1152.9 272.3 L1153.4 272.3 L1153.9 273.3 L1154.4 273.1 L1154.9 272.1 L1155.4 273.1 L1155.9 272.5 L1156.4 272.5 L1156.9 273 L1157.4 272.3 L1157.9 271.5 L1158.4 273.5 L1158.9 273.3 L1159.4 273.2 L1159.9 273.5 L1160.4 273.5 L1160.9 273 L1161.4 273.5 L1161.9 273.3 L1162.4 273.3 L1162.9 272.9 L1163.4 272.8 L1163.9 273.7 L1164.4 273 L1164.9 273 L1165.4 273.5 L1165.9 273 L1166.4 273.1 L1166.9 272.4 L1167.4 273.2 L1167.9 273.7 L1168.4 273.4 L1168.9 273 L1169.4 272.8 L1169.9 273.7 L1170.4 273 L1170.9 273.6 L1171.4 273.6 L1171.9 273.5 L1172.4 274.2 L1172.9 273.4 L1173.4 273.8 L1173.9 273.8 L1174.4 273.3 L1174.9 273.3 L1175.4 273.8 L1175.9 273.4 L1176.4 273.4 L1176.9 274 L1177.4 274 L1177.9 274.5 L1178.4 274.1 L1178.9 274 L1179.4 274.6 L1179.9 274.4 L1180.4 274.8 L1180.9 274.6 L1181.4 274.5 L1181.9 274.7 L1182.4 274.8 L1182.9 275 L1183.4 275.4 L1183.9 274.5 L1184.4 274.2 L1184.9 274.2 L1185.4 274.2 L1185.9 274.6 L1186.4 274 L1186.9 274.2 L1187.4 274.4 L1187.9 274.2 L1188.4 273.6 L1188.9 274.6 L1189.4 274.7 L1189.9 275.2 L1190.4 275.9 L1190.9 274.8 L1191.4 274 L1191.9 274.7 L1192.4 275 L1192.9 275.3 L1193.4 274.3 L1193.9 275.4 L1194.4 275.2 L1194.9 275.2 L1195.4 275.3 L1195.9 274.7 L1196.4 275.4 L1196.9 275.3 L1197.4 274.9 L1197.9 275.5 L1198.4 275.3 L1198.9 275.6 L1199.4 275.3 L1199.9 274.9 L1200.4 275.1 L1200.9 275.1 L1201.4 275.2 L1201.9 275.6 L1202.4 274.9 L1202.9 275.3 L1203.4 274.6 L1203.9 275.4 L1204.4 274.7 L1204.9 274.7 L1205.4 274.4 L1205.9 275.2 L1206.4 273.9 L1206.9 274.9 L1207.4 274.6 L1207.9 273.9 L1208.4 274.4 L1208.9 274.1 L1209.4 274.3 L1209.9 274.2 L1210.4 274.6 L1210.9 274.5 L1211.4 274.5 L1211.9 273.8 L1212.4 273.9 L1212.9 273.3 L1213.4 273.7 L1213.9 273.2 L1214.4 273.2 L1214.9 272.5 L1215.4 273 L1215.9 272.9 L1216.4 272.8 L1216.9 273.2 L1217.4 272.9 L1217.9 273.2 L1218.4 273.3 L1218.9 273 L1219.4 273.3 L1219.9 273.2 L1220.4 273.1 L1220.9 273.2 L1221.4 273.4 L1221.9 273.5 L1222.4 273.9 L1222.9 273.9 L1223.4 273.4 L1223.9 274.1 L1224.4 273.9 L1224.9 273.5 L1225.4 273.4 L1225.9 274.1 L1226.4 273.6 L1226.9 274 L1227.4 274.5 L1227.9 273.3 L1228.4 273.6 L1228.9 273.9 L1229.4 273.3 L1229.9 272.9 L1230.4 273.7 L1230.9 273.6 L1231.4 273.6 L1231.9 272.9 L1232.4 272.9 L1232.9 273.1 L1233.4 272.9 L1233.9 273.2 L1234.4 273.5 L1234.9 273.1 L1235.4 273 L1235.9 273.4 L1236.4 272.8 L1236.9 271.9 L1237.4 272.7 L1237.9 273.2 L1238.4 272.9 L1238.9 272.7 L1239.4 272.2 L1239.9 272.3 L1240.4 272.1 L1240.9 272 L1241.4 272.2 L1241.9 271.7 L1242.4 272.4 L1242.9 271.8 L1243.4 272.2 L1243.9 272.4 L1244.4 271.3 L1244.9 271.7 L1245.4 271.8 L1245.9 271.3 L1246.4 272.1 L1246.9 272.1 L1247.4 272.4 L1247.9 272 L1248.4 272.3 L1248.9 271.9 L1249.4 272.4 L1249.9 271.7 L1250.4 272.4 L1250.9 272.3 L1251.4 272.7 L1251.9 273.4 L1252.4 272.5 L1252.9 272.6 L1253.4 272.6 L1253.9 272.7 L1254.4 272.3 L1254.9 274 L1255.4 270.6 L1255.9 272.5 L1256.4 274.2 L1256.9 272.6 L1257.4 272.3 L1257.9 273 L1258.4 273.2 L1258.9 272.7 L1259.4 272.7 L1259.9 273 L1260.4 271.9 L1260.9 273 L1261.4 272.2 L1261.9 272.3 L1262.4 271.6 L1262.9 272.5 L1263.4 272.4 L1263.9 272.4 L1264.4 272.2 L1264.9 272.7 L1265.4 272.2 L1265.9 274.7 L1266.4 272.1 L1266.9 272.2 L1267.4 272.7 L1267.9 271.8 L1268.4 272.1 L1268.9 271.7 L1269.4 272.1 L1269.9 272 L1270.4 272.1 L1270.9 272.1 L1271.4 272.3 L1271.9 272.1 L1272.4 272.4 L1272.9 272.1 L1273.4 271.9 L1273.9 272.4 L1274.4 272.2 L1274.9 272.1 L1275.4 271.4 L1275.9 271.9 L1276.4 272 L1276.9 272 L1277.4 271.1 L1277.9 272.7 L1278.4 272.4 L1278.9 271.8 L1279.4 272.2 L1279.9 272 L1280.4 271.9 L1280.9 271.8 L1281.4 272.2 L1281.9 272.6 L1282.4 271.2 L1282.9 272 L1283.4 272.3 L1283.9 272.6 L1284.4 272.8 L1284.9 273.1 L1285.4 273.5 L1285.9 272.2 L1286.4 273.1 L1286.9 273 L1287.4 273.1 L1287.9 272.7 L1288.4 271.3 L1288.9 272.4 L1289.4 273.1 L1289.9 272.6 L1290.4 272 L1290.9 272.8 L1291.4 272.6 L1291.9 271.9 L1292.4 272.1 L1292.9 272.1 L1293.4 272.2 L1293.9 272 L1294.4 271.7 L1294.9 272.3 L1295.4 272.6 L1295.9 272.2 L1296.4 272.5 L1296.9 271.7 L1297.4 271.7 L1297.9 272.2 L1298.4 272.5 L1298.9 272.4 L1299.4 273.1 L1299.9 272.8 L1300.4 272.5 L1300.9 273.7 L1301.4 272.9 L1301.9 273 L1302.4 273.4 L1302.9 272.9 L1303.4 273.1" fill="none" stroke="#0000ff" stroke-width="4.2" stroke-linecap="round" stroke-linejoin="round"/>
<path d="M333.5 706.8 L500 705.6 L650 704.9 L768.3 704.5 M788 704.4 L950 703.9 L1100 703.6 L1200 703.2 L1302.5 702.8" fill="none" stroke="#ff0000" stroke-width="4.8" stroke-linecap="round" stroke-linejoin="round"/>
<path d="M1135.2 638.6 H1296.8 M1135.2 631.3 V646 M1296.8 631.3 V646" stroke="#bebebe" stroke-width="4.4" fill="none"/>
<path d="M211.5 427.5 V585.8 M205.3 427.5 H217.9 M205.3 585.8 H217.9" stroke="#bebebe" stroke-width="2.1" fill="none"/>
<circle cx="211.5" cy="506.6" r="4.1"/>
<g font-size="27.9">
<text transform="translate(163.4 945.7) scale(1 1.04)" text-anchor="middle">−10</text>
<text transform="translate(325.4 945.7) scale(1 1.04)" text-anchor="middle">0</text>
<text transform="translate(487.4 945.7) scale(1 1.04)" text-anchor="middle">10</text>
<text transform="translate(649.4 945.7) scale(1 1.04)" text-anchor="middle">20</text>
<text transform="translate(811.4 945.7) scale(1 1.04)" text-anchor="middle">30</text>
<text transform="translate(973.4 945.7) scale(1 1.04)" text-anchor="middle">40</text>
<text transform="translate(1135.3 945.7) scale(1 1.04)" text-anchor="middle">50</text>
<text transform="translate(1297.3 945.7) scale(1 1.04)" text-anchor="middle">60</text>
<text transform="translate(1459.3 945.7) scale(1 1.04)" text-anchor="middle">70</text>
<text transform="translate(140.3 912.3) scale(1 1.04)" text-anchor="end">−100</text>
<text transform="translate(140.3 833.2) scale(1 1.04)" text-anchor="end">−80</text>
<text transform="translate(140.3 754) scale(1 1.04)" text-anchor="end">−60</text>
<text transform="translate(140.3 674.8) scale(1 1.04)" text-anchor="end">−40</text>
<text transform="translate(140.3 595.6) scale(1 1.04)" text-anchor="end">−20</text>
<text transform="translate(140.3 516.4) scale(1 1.04)" text-anchor="end">0</text>
<text transform="translate(140.3 437.2) scale(1 1.04)" text-anchor="end">20</text>
<text transform="translate(140.3 358) scale(1 1.04)" text-anchor="end">40</text>
<text transform="translate(140.3 278.8) scale(1 1.04)" text-anchor="end">60</text>
<text transform="translate(140.3 199.6) scale(1 1.04)" text-anchor="end">80</text>
<text transform="translate(140.3 120.4) scale(1 1.04)" text-anchor="end">100</text>
<text transform="translate(1481.5 437.2) scale(1 1.04)">1012</text>
<text transform="translate(1481.5 357.8) scale(1 1.04)">1013</text>
<text transform="translate(1481.5 278.4) scale(1 1.04)">1014</text>
<text transform="translate(1481.5 199) scale(1 1.04)">1015</text>
<text transform="translate(1560.3 912.5) scale(1 1.04)" text-anchor="end">−1500</text>
<text transform="translate(1560.3 846.5) scale(1 1.04)" text-anchor="end">−1000</text>
<text transform="translate(1560.3 780.5) scale(1 1.04)" text-anchor="end">−500</text>
<text transform="translate(1560.3 714.5) scale(1 1.04)" text-anchor="end">0</text>
<text transform="translate(1560.3 648.5) scale(1 1.04)" text-anchor="end">500</text>
<text transform="translate(1560.3 582.5) scale(1 1.04)" text-anchor="end">1000</text>
</g>
<text transform="translate(811.3 999.8) scale(1 1.035)" font-size="36" text-anchor="middle">Time [min] from 2022−10−30 13:00:00 UTC</text>
<text transform="translate(49.3 506.3) rotate(-90)" font-size="36" text-anchor="middle">Obs’d Gravity [nm/s<tspan font-size="25" dy="-12">2</tspan><tspan dy="12">]</tspan></text>
<text transform="translate(1598.5 308.7) rotate(-90)" font-size="36" text-anchor="middle">Pressure [hPa]</text>
<text transform="translate(1615 703.8) rotate(-90)" font-size="36" text-anchor="middle">Tide [nm/s<tspan font-size="25" dy="-12">2</tspan><tspan dy="12">]</tspan></text>
<text x="560.2" y="82" font-size="32.2" font-weight="bold">SCG<tspan dy="1.6">_</tspan><tspan dy="-1.6">054 gravimeter Onsala Space Observatory, Sweden</tspan></text>
<rect x="629.3" y="85.7" width="19.4" height="2.4"/>
<text x="192" y="887.8" font-size="27.84" font-weight="bold">The latest 1−hour, 1−second sampling</text>
<text transform="translate(1430 887.9) scale(1 1.035)" font-size="27.84" font-weight="bold" text-anchor="end">End at 2022−10−30 13:59:59 UTC</text>
<text transform="translate(243.9 604.5) rotate(-90)" font-size="24.1">Typical noise level</text>
<text transform="translate(1387 402.5) rotate(-90)" font-size="23.9">1 DIV = 0.5 hPa/h</text>
<text transform="translate(1426.4 409.3) rotate(-90)" font-size="23.9">average = −0.3452</text>
<rect x="167.2" y="18.4" width="372.6" height="163.2" fill="#fff" stroke="#787878" stroke-width="1"/>
<path d="M204.1 39.4 H260" stroke="#0000ff" stroke-width="0.8" fill="none"/>
<circle cx="232.2" cy="39.4" r="4.2" fill="#0000ff"/>
<text x="279" y="47.7" font-size="24.1">Pressure</text>
<path d="M204.1 69.6 H260" stroke="#00c8c8" stroke-width="0.8" fill="none"/>
<circle cx="232.2" cy="69.6" r="4.2" fill="#00c8c8"/>
<text x="279" y="77.9" font-size="24.1">dP/dt low−passed</text>
<path d="M204.1 100.4 H260" stroke="#000" stroke-width="2.6" fill="none"/>
<text x="279" y="108.7" font-size="24.1">Residual</text>
<path d="M204.1 130.4 H260" stroke="#bebebe" stroke-width="2.6" fill="none"/>
<text x="279" y="138.7" font-size="24.1">... last 10 min.</text>
<path d="M204.1 161.3 H260" stroke="#ff0000" stroke-width="0.8" fill="none"/>
<circle cx="232.2" cy="161.3" r="4.2" fill="#ff0000"/>
<text x="279" y="169.6" font-size="24.1">Theor.Tide</text>
</svg>
</body>
</html>
